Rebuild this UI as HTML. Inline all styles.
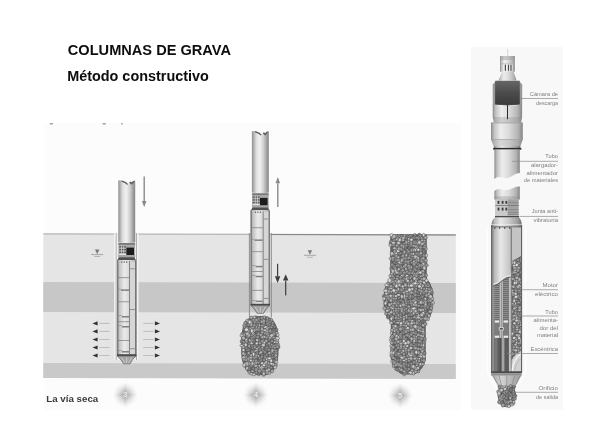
<!DOCTYPE html>
<html><head><meta charset="utf-8"><title>Columnas de grava</title>
<style>html,body{margin:0;padding:0;background:#fff}svg{display:block}text{font-family:"Liberation Sans",sans-serif}</style>
</head><body>
<svg width="600" height="435" viewBox="0 0 600 435">
<defs>
<linearGradient id="tube" x1="0" x2="1" y1="0" y2="0">
<stop offset="0" stop-color="#8c8c8c"/><stop offset="0.1" stop-color="#b0b0b0"/><stop offset="0.28" stop-color="#e2e2e2"/><stop offset="0.48" stop-color="#f0f0f0"/><stop offset="0.7" stop-color="#cdcdcd"/><stop offset="0.9" stop-color="#9a9a9a"/><stop offset="1" stop-color="#858585"/>
</linearGradient>
<linearGradient id="body" x1="0" x2="1" y1="0" y2="0">
<stop offset="0" stop-color="#8a8a8a"/><stop offset="0.12" stop-color="#c4c4c4"/><stop offset="0.38" stop-color="#ebebeb"/><stop offset="0.65" stop-color="#d6d6d6"/><stop offset="1" stop-color="#b0b0b0"/>
</linearGradient>
<linearGradient id="cyl" x1="0" x2="1" y1="0" y2="0">
<stop offset="0" stop-color="#8a8a8a"/><stop offset="0.1" stop-color="#c2c2c2"/><stop offset="0.3" stop-color="#ededed"/><stop offset="0.55" stop-color="#dcdcdc"/><stop offset="0.85" stop-color="#b4b4b4"/><stop offset="1" stop-color="#858585"/>
</linearGradient>
<linearGradient id="cyl2" x1="0" x2="1" y1="0" y2="0">
<stop offset="0" stop-color="#7c7c7c"/><stop offset="0.1" stop-color="#b8b8b8"/><stop offset="0.3" stop-color="#e8e8e8"/><stop offset="0.6" stop-color="#c6c6c6"/><stop offset="0.85" stop-color="#a0a0a0"/><stop offset="1" stop-color="#707070"/>
</linearGradient>
<linearGradient id="dark" x1="0" x2="1" y1="0" y2="0">
<stop offset="0" stop-color="#8a8a8a"/><stop offset="0.1" stop-color="#7a7a7a"/><stop offset="0.13" stop-color="#4a4a4a"/><stop offset="0.5" stop-color="#505050"/><stop offset="0.87" stop-color="#585858"/><stop offset="0.9" stop-color="#8a8a8a"/><stop offset="1" stop-color="#9a9a9a"/>
</linearGradient>
<linearGradient id="darkv" x1="0" x2="0" y1="0" y2="1"><stop offset="0" stop-color="#666"/><stop offset="0.5" stop-color="#4c4c4c"/><stop offset="1" stop-color="#3a3a3a"/></linearGradient>
<linearGradient id="shellcut" gradientUnits="userSpaceOnUse" x1="491.5" x2="521.8" y1="0" y2="0"><stop offset="0" stop-color="#7c7c7c"/><stop offset="0.1" stop-color="#b8b8b8"/><stop offset="0.3" stop-color="#e8e8e8"/><stop offset="0.6" stop-color="#c6c6c6"/><stop offset="0.85" stop-color="#a0a0a0"/><stop offset="1" stop-color="#707070"/></linearGradient>
<linearGradient id="conegr" x1="0" x2="1" y1="0" y2="0"><stop offset="0" stop-color="#a8a8a8"/><stop offset="0.3" stop-color="#d4d4d4"/><stop offset="0.55" stop-color="#c0c0c0"/><stop offset="1" stop-color="#9c9c9c"/></linearGradient>
<radialGradient id="badge"><stop offset="0" stop-color="#a6a6a6" stop-opacity="0.9"/><stop offset="0.3" stop-color="#b0b0b0" stop-opacity="0.72"/><stop offset="0.65" stop-color="#c8c8c8" stop-opacity="0.35"/><stop offset="1" stop-color="#ddd" stop-opacity="0"/></radialGradient>
<filter id="blur1" x="-5%" y="-20%" width="110%" height="140%"><feGaussianBlur stdDeviation="0.3"/></filter>
<filter id="blur2" x="-5%" y="-5%" width="110%" height="110%"><feGaussianBlur stdDeviation="0.35"/></filter>
<filter id="blur3" x="-5%" y="-5%" width="110%" height="110%"><feGaussianBlur stdDeviation="0.45"/></filter>
<filter id="bump" x="-10%" y="-10%" width="120%" height="120%"><feTurbulence type="fractalNoise" baseFrequency="0.35" numOctaves="1" seed="3" result="n"/><feDisplacementMap in="SourceGraphic" in2="n" scale="5" xChannelSelector="R" yChannelSelector="G"/><feGaussianBlur stdDeviation="0.3"/></filter>

<clipPath id="feedclip"><path d="M511.7,261.3 L521,256.3 L521,351 Q513,356 511.7,361 Z"/></clipPath>
</defs>
<rect width="600" height="435" fill="#fff"/>
<g filter="url(#blur1)"><text x="67.8" y="54.6" font-size="14.5" font-weight="bold" fill="#0c0c0c" textLength="163.2" lengthAdjust="spacingAndGlyphs">COLUMNAS DE GRAVA</text>
<text x="67.2" y="80.6" font-size="14.2" font-weight="bold" fill="#0c0c0c" textLength="141.6" lengthAdjust="spacingAndGlyphs">Método constructivo</text></g>
<g filter="url(#blur2)">
<rect x="44" y="123" width="417" height="287" fill="#fcfcfc"/>
<g transform="translate(43.3 0) skewY(0.14) translate(-43.3 0)">
<rect x="43.3" y="234" width="412.5" height="143.5" fill="#e5e5e5"/>
<rect x="43.3" y="282" width="412.5" height="30" fill="#c7c7c7"/>
<rect x="43.3" y="363.1" width="412.5" height="14.8" fill="#c9c9c9"/>
<rect x="43.3" y="233.3" width="412.5" height="1.2" fill="#b4b4b4"/>
<rect x="272" y="233.4" width="183.8" height="1" fill="#858585"/>
</g>
<rect x="49.8" y="123.2" width="3" height="1.2" fill="#8a8a8a"/>
<rect x="102.7" y="123.2" width="3" height="1.2" fill="#8a8a8a"/>
<rect x="121.2" y="123.2" width="1.6" height="1.2" fill="#8a8a8a"/>
<path d="M254.8,316.0 L251.2,317.0 L249.2,318.0 L248.0,319.0 L247.0,320.0 L246.2,321.0 L245.5,322.0 L244.8,323.0 L244.2,324.0 L243.8,325.0 L243.5,326.0 L243.0,327.0 L242.8,328.0 L242.5,329.0 L242.2,330.0 L242.0,331.0 L242.0,332.0 L241.8,333.0 L241.5,334.0 L241.5,335.0 L241.5,336.0 L241.2,337.0 L241.2,338.0 L241.2,339.0 L241.2,340.0 L241.2,341.0 L241.2,342.0 L241.2,343.0 L241.2,344.0 L241.2,345.0 L241.2,346.0 L241.2,347.0 L241.2,348.0 L241.2,349.0 L241.2,350.0 L241.2,351.0 L241.2,352.0 L241.2,353.0 L241.2,354.0 L241.5,355.0 L241.5,356.0 L241.5,357.0 L241.8,358.0 L241.8,359.0 L242.0,360.0 L242.2,361.0 L242.5,362.0 L242.8,363.0 L243.0,364.0 L243.2,365.0 L243.8,366.0 L244.2,367.0 L244.8,368.0 L245.2,369.0 L246.0,370.0 L246.8,371.0 L247.8,372.0 L249.0,373.0 L250.8,374.0 L253.8,375.0 L266.0,375.0 L269.0,374.0 L270.8,373.0 L272.0,372.0 L273.0,371.0 L273.8,370.0 L274.5,369.0 L275.0,368.0 L275.5,367.0 L276.0,366.0 L276.5,365.0 L276.8,364.0 L277.0,363.0 L277.2,362.0 L277.5,361.0 L277.8,360.0 L278.0,359.0 L278.0,358.0 L278.2,357.0 L278.2,356.0 L278.5,355.0 L278.5,354.0 L278.5,353.0 L278.5,352.0 L278.5,351.0 L278.8,350.0 L278.8,349.0 L278.8,348.0 L278.8,347.0 L278.8,346.0 L278.8,345.0 L278.8,344.0 L278.8,343.0 L278.8,342.0 L278.8,341.0 L278.5,340.0 L278.5,339.0 L278.5,338.0 L278.5,337.0 L278.5,336.0 L278.2,335.0 L278.2,334.0 L278.0,333.0 L278.0,332.0 L277.8,331.0 L277.5,330.0 L277.2,329.0 L277.0,328.0 L276.8,327.0 L276.2,326.0 L276.0,325.0 L275.5,324.0 L275.0,323.0 L274.2,322.0 L273.8,321.0 L272.8,320.0 L271.8,319.0 L270.5,318.0 L268.5,317.0 L265.0,316.0 Z" fill="#646464"/><g stroke="#484848" stroke-width="0.45"><ellipse cx="273.6" cy="326.1" rx="1.5" ry="1.5" fill="#cacaca"/><ellipse cx="258.3" cy="329.8" rx="2.0" ry="1.6" fill="#9e9e9e"/><ellipse cx="258.9" cy="337.2" rx="1.5" ry="1.9" fill="#969696"/><ellipse cx="248.8" cy="349.8" rx="1.8" ry="1.8" fill="#a6a6a6"/><ellipse cx="263.3" cy="340.2" rx="1.4" ry="1.7" fill="#aaaaaa"/><ellipse cx="250.2" cy="333.1" rx="1.6" ry="1.8" fill="#828282"/><ellipse cx="261.8" cy="327.8" rx="1.4" ry="1.3" fill="#bebebe"/><ellipse cx="269.3" cy="320.5" rx="1.7" ry="2.0" fill="#9a9a9a"/><ellipse cx="256.5" cy="345.3" rx="1.8" ry="1.6" fill="#828282"/><ellipse cx="249.9" cy="347.2" rx="1.6" ry="1.4" fill="#969696"/><ellipse cx="243.3" cy="347.1" rx="2.0" ry="1.2" fill="#cacaca"/><ellipse cx="263.9" cy="348.4" rx="1.3" ry="1.4" fill="#828282"/><ellipse cx="246.1" cy="325.8" rx="2.0" ry="1.8" fill="#8e8e8e"/><ellipse cx="259.7" cy="360.9" rx="1.6" ry="1.9" fill="#8e8e8e"/><ellipse cx="258.3" cy="355.9" rx="1.4" ry="1.7" fill="#b2b2b2"/><ellipse cx="262.0" cy="349.4" rx="1.5" ry="1.6" fill="#b2b2b2"/><ellipse cx="272.7" cy="330.7" rx="2.0" ry="1.2" fill="#bebebe"/><ellipse cx="262.1" cy="329.4" rx="1.6" ry="1.9" fill="#b2b2b2"/><ellipse cx="254.4" cy="353.2" rx="1.2" ry="1.8" fill="#cacaca"/><ellipse cx="254.2" cy="369.9" rx="1.3" ry="1.7" fill="#828282"/><ellipse cx="274.6" cy="330.0" rx="1.7" ry="1.3" fill="#8e8e8e"/><ellipse cx="249.1" cy="366.1" rx="1.4" ry="1.8" fill="#969696"/><ellipse cx="278.5" cy="347.1" rx="1.5" ry="1.7" fill="#828282"/><ellipse cx="263.7" cy="336.0" rx="1.6" ry="1.3" fill="#9a9a9a"/><ellipse cx="268.5" cy="349.6" rx="2.0" ry="1.6" fill="#969696"/><ellipse cx="254.6" cy="357.6" rx="1.8" ry="1.5" fill="#a6a6a6"/><ellipse cx="253.4" cy="361.1" rx="1.4" ry="2.0" fill="#9e9e9e"/><ellipse cx="274.0" cy="353.6" rx="1.9" ry="1.5" fill="#969696"/><ellipse cx="267.3" cy="330.5" rx="1.6" ry="1.9" fill="#cacaca"/><ellipse cx="267.6" cy="358.7" rx="2.0" ry="1.8" fill="#cacaca"/><ellipse cx="262.5" cy="372.1" rx="1.2" ry="2.0" fill="#b2b2b2"/><ellipse cx="243.9" cy="344.4" rx="1.6" ry="1.6" fill="#9e9e9e"/><ellipse cx="248.5" cy="330.9" rx="1.5" ry="1.5" fill="#aaaaaa"/><ellipse cx="266.2" cy="367.3" rx="1.4" ry="1.8" fill="#9a9a9a"/><ellipse cx="266.3" cy="331.8" rx="2.0" ry="1.5" fill="#bebebe"/><ellipse cx="261.7" cy="345.6" rx="1.5" ry="1.5" fill="#aaaaaa"/><ellipse cx="271.2" cy="327.2" rx="1.5" ry="1.4" fill="#a6a6a6"/><ellipse cx="246.3" cy="322.5" rx="1.7" ry="1.4" fill="#aaaaaa"/><ellipse cx="259.3" cy="365.9" rx="1.3" ry="1.5" fill="#bebebe"/><ellipse cx="271.4" cy="320.2" rx="1.4" ry="1.8" fill="#a6a6a6"/><ellipse cx="263.8" cy="366.8" rx="1.5" ry="1.8" fill="#9a9a9a"/><ellipse cx="274.8" cy="361.8" rx="1.3" ry="2.0" fill="#9a9a9a"/><ellipse cx="271.6" cy="337.3" rx="1.7" ry="1.9" fill="#a6a6a6"/><ellipse cx="275.2" cy="342.2" rx="1.8" ry="1.4" fill="#cacaca"/><ellipse cx="241.5" cy="345.6" rx="1.7" ry="1.2" fill="#cacaca"/><ellipse cx="273.3" cy="350.2" rx="1.8" ry="1.5" fill="#dadada"/><ellipse cx="255.9" cy="317.2" rx="1.4" ry="1.4" fill="#828282"/><ellipse cx="271.8" cy="352.2" rx="1.8" ry="1.9" fill="#aaaaaa"/><ellipse cx="249.3" cy="367.8" rx="1.8" ry="1.6" fill="#9e9e9e"/><ellipse cx="253.3" cy="340.8" rx="1.9" ry="1.8" fill="#aaaaaa"/><ellipse cx="252.3" cy="327.8" rx="1.9" ry="1.6" fill="#dadada"/><ellipse cx="264.2" cy="336.8" rx="1.7" ry="1.4" fill="#cacaca"/><ellipse cx="272.7" cy="323.0" rx="1.5" ry="1.5" fill="#9a9a9a"/><ellipse cx="262.1" cy="364.8" rx="1.5" ry="1.5" fill="#aaaaaa"/><ellipse cx="256.3" cy="372.7" rx="2.0" ry="1.5" fill="#9a9a9a"/><ellipse cx="267.2" cy="327.7" rx="1.4" ry="2.0" fill="#dadada"/><ellipse cx="249.0" cy="360.2" rx="1.3" ry="2.0" fill="#a6a6a6"/><ellipse cx="253.4" cy="366.0" rx="1.5" ry="1.7" fill="#969696"/><ellipse cx="264.1" cy="317.3" rx="1.8" ry="1.6" fill="#a6a6a6"/><ellipse cx="259.9" cy="368.4" rx="1.9" ry="1.5" fill="#bebebe"/><ellipse cx="267.2" cy="324.3" rx="1.7" ry="1.5" fill="#a6a6a6"/><ellipse cx="247.7" cy="350.1" rx="2.0" ry="1.3" fill="#8e8e8e"/><ellipse cx="246.1" cy="359.7" rx="1.9" ry="1.6" fill="#b2b2b2"/><ellipse cx="254.3" cy="317.4" rx="1.5" ry="1.5" fill="#cacaca"/><ellipse cx="256.3" cy="329.3" rx="2.0" ry="1.6" fill="#aaaaaa"/><ellipse cx="271.2" cy="341.8" rx="1.5" ry="1.3" fill="#969696"/><ellipse cx="261.8" cy="367.7" rx="2.0" ry="1.8" fill="#dadada"/><ellipse cx="247.4" cy="338.2" rx="1.5" ry="1.3" fill="#9e9e9e"/><ellipse cx="269.5" cy="367.4" rx="1.5" ry="1.6" fill="#9a9a9a"/><ellipse cx="254.1" cy="346.1" rx="1.6" ry="1.6" fill="#cacaca"/><ellipse cx="242.4" cy="342.3" rx="1.7" ry="1.4" fill="#9a9a9a"/><ellipse cx="257.3" cy="322.3" rx="1.9" ry="1.5" fill="#a6a6a6"/><ellipse cx="251.2" cy="373.7" rx="1.4" ry="1.5" fill="#cacaca"/><ellipse cx="257.1" cy="348.7" rx="1.8" ry="1.5" fill="#b2b2b2"/><ellipse cx="257.4" cy="340.1" rx="1.6" ry="1.6" fill="#dadada"/><ellipse cx="271.4" cy="345.1" rx="1.6" ry="1.6" fill="#bebebe"/><ellipse cx="258.7" cy="374.3" rx="1.4" ry="1.5" fill="#8e8e8e"/><ellipse cx="275.0" cy="356.8" rx="1.9" ry="1.8" fill="#9a9a9a"/><ellipse cx="263.3" cy="350.8" rx="1.7" ry="1.4" fill="#9e9e9e"/><ellipse cx="252.6" cy="347.3" rx="1.4" ry="1.8" fill="#b2b2b2"/><ellipse cx="261.9" cy="318.0" rx="1.8" ry="1.6" fill="#9a9a9a"/><ellipse cx="277.6" cy="334.6" rx="1.4" ry="1.9" fill="#cacaca"/><ellipse cx="252.5" cy="371.2" rx="1.9" ry="1.3" fill="#aaaaaa"/><ellipse cx="273.6" cy="355.0" rx="2.0" ry="1.3" fill="#969696"/><ellipse cx="275.8" cy="355.4" rx="1.7" ry="1.9" fill="#a6a6a6"/><ellipse cx="260.9" cy="359.8" rx="1.7" ry="1.7" fill="#8e8e8e"/><ellipse cx="276.4" cy="358.7" rx="1.4" ry="1.7" fill="#9a9a9a"/><ellipse cx="244.6" cy="326.9" rx="1.6" ry="1.7" fill="#9a9a9a"/><ellipse cx="253.5" cy="351.1" rx="1.4" ry="1.8" fill="#aaaaaa"/><ellipse cx="265.2" cy="327.0" rx="2.0" ry="1.2" fill="#dadada"/><ellipse cx="250.2" cy="340.5" rx="1.5" ry="1.8" fill="#dadada"/><ellipse cx="272.4" cy="357.2" rx="1.6" ry="1.5" fill="#8e8e8e"/><ellipse cx="252.1" cy="367.0" rx="1.5" ry="1.4" fill="#828282"/><ellipse cx="244.5" cy="354.5" rx="1.8" ry="1.6" fill="#bebebe"/><ellipse cx="267.5" cy="318.4" rx="1.3" ry="1.9" fill="#9a9a9a"/><ellipse cx="259.2" cy="325.3" rx="1.4" ry="1.7" fill="#bebebe"/><ellipse cx="269.0" cy="327.6" rx="1.6" ry="1.4" fill="#969696"/><ellipse cx="248.8" cy="355.1" rx="1.8" ry="1.7" fill="#bebebe"/><ellipse cx="274.0" cy="345.9" rx="1.6" ry="1.6" fill="#b2b2b2"/><ellipse cx="254.7" cy="321.8" rx="1.5" ry="1.6" fill="#b2b2b2"/><ellipse cx="246.2" cy="340.3" rx="1.4" ry="2.0" fill="#dadada"/><ellipse cx="272.3" cy="350.7" rx="1.4" ry="1.9" fill="#b2b2b2"/><ellipse cx="253.4" cy="368.5" rx="1.8" ry="1.4" fill="#828282"/><ellipse cx="259.7" cy="353.0" rx="1.6" ry="1.6" fill="#aaaaaa"/><ellipse cx="263.5" cy="325.3" rx="1.4" ry="1.4" fill="#a6a6a6"/><ellipse cx="258.4" cy="332.5" rx="1.9" ry="1.5" fill="#828282"/><ellipse cx="261.7" cy="369.5" rx="1.9" ry="1.8" fill="#aaaaaa"/><ellipse cx="275.9" cy="365.2" rx="1.5" ry="1.6" fill="#9e9e9e"/><ellipse cx="272.5" cy="325.2" rx="1.4" ry="1.2" fill="#9e9e9e"/><ellipse cx="259.4" cy="340.3" rx="1.3" ry="1.9" fill="#828282"/><ellipse cx="257.2" cy="332.9" rx="1.6" ry="1.3" fill="#828282"/><ellipse cx="261.7" cy="342.5" rx="1.6" ry="1.7" fill="#969696"/><ellipse cx="249.3" cy="343.6" rx="1.8" ry="1.8" fill="#828282"/><ellipse cx="267.7" cy="342.3" rx="1.6" ry="1.5" fill="#828282"/><ellipse cx="251.2" cy="324.8" rx="1.7" ry="1.5" fill="#cacaca"/><ellipse cx="256.1" cy="335.2" rx="1.8" ry="1.8" fill="#828282"/><ellipse cx="251.9" cy="320.8" rx="1.8" ry="1.6" fill="#9e9e9e"/><ellipse cx="270.0" cy="322.2" rx="1.5" ry="2.0" fill="#8e8e8e"/><ellipse cx="258.9" cy="320.0" rx="1.4" ry="1.5" fill="#9e9e9e"/><ellipse cx="259.7" cy="346.0" rx="1.4" ry="1.2" fill="#8e8e8e"/><ellipse cx="252.0" cy="335.3" rx="1.8" ry="2.0" fill="#8e8e8e"/><ellipse cx="258.7" cy="327.8" rx="1.4" ry="1.2" fill="#a6a6a6"/><ellipse cx="266.6" cy="359.5" rx="1.7" ry="1.7" fill="#bebebe"/><ellipse cx="242.0" cy="341.2" rx="1.9" ry="1.7" fill="#8e8e8e"/><ellipse cx="245.2" cy="323.1" rx="1.6" ry="1.6" fill="#9e9e9e"/><ellipse cx="262.2" cy="354.9" rx="2.0" ry="1.4" fill="#828282"/><ellipse cx="251.9" cy="351.1" rx="1.4" ry="1.2" fill="#aaaaaa"/><ellipse cx="258.5" cy="362.8" rx="1.4" ry="1.4" fill="#9a9a9a"/><ellipse cx="267.6" cy="334.5" rx="2.0" ry="1.7" fill="#bebebe"/><ellipse cx="266.7" cy="337.4" rx="1.6" ry="1.6" fill="#9e9e9e"/><ellipse cx="259.8" cy="343.1" rx="1.8" ry="1.5" fill="#9e9e9e"/><ellipse cx="268.5" cy="369.8" rx="1.7" ry="1.5" fill="#dadada"/><ellipse cx="255.9" cy="365.9" rx="2.0" ry="1.7" fill="#b2b2b2"/><ellipse cx="254.5" cy="363.4" rx="1.5" ry="1.6" fill="#aaaaaa"/><ellipse cx="272.1" cy="347.1" rx="1.6" ry="1.6" fill="#9a9a9a"/><ellipse cx="251.7" cy="340.3" rx="1.4" ry="1.8" fill="#a6a6a6"/><ellipse cx="246.2" cy="357.2" rx="1.6" ry="1.6" fill="#a6a6a6"/><ellipse cx="278.3" cy="344.8" rx="1.4" ry="1.9" fill="#b2b2b2"/><ellipse cx="245.0" cy="330.8" rx="1.5" ry="1.3" fill="#828282"/><ellipse cx="242.4" cy="333.6" rx="1.6" ry="1.3" fill="#aaaaaa"/><ellipse cx="268.3" cy="335.7" rx="1.5" ry="1.8" fill="#969696"/><ellipse cx="252.4" cy="352.0" rx="1.8" ry="1.8" fill="#8e8e8e"/><ellipse cx="262.0" cy="320.6" rx="1.5" ry="1.7" fill="#a6a6a6"/><ellipse cx="257.5" cy="368.1" rx="1.2" ry="1.6" fill="#a6a6a6"/><ellipse cx="251.7" cy="343.6" rx="1.6" ry="2.0" fill="#cacaca"/><ellipse cx="270.1" cy="355.7" rx="1.7" ry="1.3" fill="#8e8e8e"/><ellipse cx="248.5" cy="324.6" rx="1.5" ry="1.6" fill="#969696"/><ellipse cx="248.5" cy="358.6" rx="1.5" ry="1.6" fill="#a6a6a6"/><ellipse cx="268.3" cy="363.3" rx="1.5" ry="1.3" fill="#bebebe"/><ellipse cx="268.8" cy="324.7" rx="1.8" ry="1.4" fill="#9a9a9a"/><ellipse cx="251.1" cy="365.7" rx="1.8" ry="1.5" fill="#8e8e8e"/><ellipse cx="260.9" cy="334.8" rx="1.5" ry="1.6" fill="#bebebe"/><ellipse cx="247.7" cy="355.0" rx="1.8" ry="1.4" fill="#828282"/><ellipse cx="259.0" cy="347.4" rx="1.4" ry="1.3" fill="#aaaaaa"/><ellipse cx="253.4" cy="333.7" rx="1.6" ry="1.7" fill="#b2b2b2"/><ellipse cx="272.1" cy="371.1" rx="1.6" ry="1.8" fill="#aaaaaa"/><ellipse cx="262.3" cy="348.0" rx="1.4" ry="2.0" fill="#a6a6a6"/><ellipse cx="274.1" cy="360.9" rx="1.4" ry="2.0" fill="#828282"/><ellipse cx="276.4" cy="345.0" rx="1.8" ry="1.7" fill="#8e8e8e"/><ellipse cx="258.3" cy="322.5" rx="2.0" ry="1.6" fill="#8e8e8e"/><ellipse cx="266.4" cy="364.4" rx="1.5" ry="1.6" fill="#9e9e9e"/><ellipse cx="246.8" cy="328.3" rx="1.7" ry="1.3" fill="#bebebe"/><ellipse cx="260.2" cy="349.5" rx="1.8" ry="2.0" fill="#828282"/><ellipse cx="256.3" cy="369.7" rx="1.8" ry="2.0" fill="#969696"/><ellipse cx="258.3" cy="334.3" rx="1.7" ry="2.0" fill="#969696"/><ellipse cx="256.8" cy="324.6" rx="1.8" ry="1.6" fill="#828282"/><ellipse cx="253.3" cy="327.4" rx="1.4" ry="1.4" fill="#a6a6a6"/><ellipse cx="266.9" cy="347.5" rx="1.8" ry="1.4" fill="#9e9e9e"/><ellipse cx="243.4" cy="339.4" rx="1.4" ry="1.4" fill="#8e8e8e"/><ellipse cx="258.7" cy="318.7" rx="1.4" ry="1.6" fill="#9a9a9a"/><ellipse cx="247.5" cy="335.9" rx="1.8" ry="2.0" fill="#a6a6a6"/><ellipse cx="271.7" cy="364.6" rx="1.9" ry="1.3" fill="#8e8e8e"/><ellipse cx="249.1" cy="321.1" rx="2.0" ry="1.8" fill="#9a9a9a"/><ellipse cx="266.9" cy="371.0" rx="1.9" ry="1.8" fill="#cacaca"/><ellipse cx="252.3" cy="363.5" rx="1.6" ry="1.9" fill="#bebebe"/><ellipse cx="261.0" cy="352.3" rx="1.4" ry="1.6" fill="#bebebe"/><ellipse cx="252.6" cy="332.6" rx="1.3" ry="1.4" fill="#dadada"/><ellipse cx="270.2" cy="347.2" rx="1.7" ry="1.3" fill="#b2b2b2"/><ellipse cx="247.4" cy="365.2" rx="1.4" ry="1.6" fill="#aaaaaa"/><ellipse cx="253.4" cy="354.4" rx="1.4" ry="1.9" fill="#dadada"/><ellipse cx="250.1" cy="328.4" rx="1.5" ry="1.4" fill="#9a9a9a"/><ellipse cx="248.5" cy="336.8" rx="2.0" ry="1.2" fill="#9e9e9e"/><ellipse cx="245.0" cy="333.3" rx="2.0" ry="1.6" fill="#8e8e8e"/><ellipse cx="254.8" cy="336.2" rx="1.3" ry="1.5" fill="#b2b2b2"/><ellipse cx="250.9" cy="357.2" rx="1.8" ry="2.0" fill="#b2b2b2"/><ellipse cx="275.2" cy="339.5" rx="1.6" ry="1.3" fill="#b2b2b2"/><ellipse cx="272.1" cy="341.1" rx="1.6" ry="1.5" fill="#969696"/><ellipse cx="265.1" cy="355.7" rx="1.3" ry="1.6" fill="#969696"/><ellipse cx="251.0" cy="322.9" rx="1.4" ry="1.6" fill="#cacaca"/><ellipse cx="260.0" cy="358.0" rx="1.6" ry="1.5" fill="#9a9a9a"/><ellipse cx="249.1" cy="346.0" rx="1.3" ry="1.7" fill="#aaaaaa"/><ellipse cx="256.7" cy="343.4" rx="1.4" ry="1.3" fill="#dadada"/><ellipse cx="255.9" cy="357.0" rx="1.3" ry="1.9" fill="#9e9e9e"/><ellipse cx="251.4" cy="317.8" rx="1.8" ry="1.7" fill="#a6a6a6"/><ellipse cx="247.6" cy="353.7" rx="1.4" ry="1.6" fill="#828282"/><ellipse cx="256.4" cy="326.8" rx="1.4" ry="1.7" fill="#9e9e9e"/><ellipse cx="251.9" cy="330.8" rx="1.5" ry="2.0" fill="#dadada"/><ellipse cx="266.2" cy="353.6" rx="1.6" ry="1.4" fill="#aaaaaa"/><ellipse cx="276.2" cy="351.9" rx="1.4" ry="1.9" fill="#bebebe"/><ellipse cx="247.0" cy="363.6" rx="1.8" ry="1.8" fill="#dadada"/><ellipse cx="249.1" cy="372.1" rx="1.2" ry="2.0" fill="#a6a6a6"/><ellipse cx="263.5" cy="344.9" rx="1.8" ry="1.9" fill="#cacaca"/><ellipse cx="274.0" cy="332.4" rx="1.8" ry="1.8" fill="#8e8e8e"/><ellipse cx="253.6" cy="319.9" rx="2.0" ry="1.5" fill="#969696"/><ellipse cx="266.7" cy="354.7" rx="1.3" ry="1.9" fill="#8e8e8e"/><ellipse cx="248.7" cy="352.9" rx="1.3" ry="1.5" fill="#b2b2b2"/><ellipse cx="273.6" cy="334.3" rx="1.8" ry="1.7" fill="#a6a6a6"/><ellipse cx="264.0" cy="365.1" rx="1.5" ry="1.7" fill="#dadada"/><ellipse cx="261.9" cy="356.8" rx="1.7" ry="1.7" fill="#8e8e8e"/><ellipse cx="247.1" cy="368.3" rx="1.2" ry="1.9" fill="#dadada"/><ellipse cx="263.5" cy="370.9" rx="1.7" ry="1.8" fill="#8e8e8e"/><ellipse cx="277.3" cy="346.9" rx="1.6" ry="1.3" fill="#a6a6a6"/><ellipse cx="251.8" cy="338.1" rx="1.5" ry="1.6" fill="#9a9a9a"/><ellipse cx="256.4" cy="350.9" rx="2.0" ry="1.2" fill="#cacaca"/><ellipse cx="269.9" cy="346.0" rx="1.6" ry="1.8" fill="#828282"/><ellipse cx="249.0" cy="335.3" rx="1.4" ry="1.9" fill="#bebebe"/><ellipse cx="247.4" cy="333.7" rx="1.9" ry="1.7" fill="#bebebe"/><ellipse cx="267.6" cy="322.8" rx="1.8" ry="1.9" fill="#969696"/><ellipse cx="262.1" cy="363.1" rx="1.6" ry="1.5" fill="#cacaca"/><ellipse cx="269.4" cy="339.3" rx="1.2" ry="1.8" fill="#9a9a9a"/><ellipse cx="274.7" cy="326.8" rx="1.4" ry="1.5" fill="#828282"/><ellipse cx="243.5" cy="350.0" rx="1.5" ry="1.5" fill="#dadada"/><ellipse cx="266.1" cy="349.6" rx="1.8" ry="1.7" fill="#828282"/><ellipse cx="244.3" cy="325.5" rx="1.6" ry="1.4" fill="#9e9e9e"/><ellipse cx="246.3" cy="348.1" rx="1.8" ry="1.6" fill="#828282"/><ellipse cx="265.2" cy="362.9" rx="1.8" ry="1.4" fill="#cacaca"/><ellipse cx="262.2" cy="337.2" rx="1.2" ry="1.5" fill="#bebebe"/><ellipse cx="253.5" cy="337.3" rx="1.8" ry="1.3" fill="#969696"/><ellipse cx="269.2" cy="360.4" rx="2.0" ry="1.3" fill="#9a9a9a"/><ellipse cx="264.2" cy="342.4" rx="1.7" ry="1.5" fill="#cacaca"/><ellipse cx="243.7" cy="342.1" rx="1.8" ry="1.4" fill="#969696"/><ellipse cx="244.0" cy="359.5" rx="1.6" ry="1.5" fill="#a6a6a6"/><ellipse cx="269.5" cy="358.3" rx="1.8" ry="1.3" fill="#dadada"/><ellipse cx="263.7" cy="322.9" rx="1.4" ry="2.0" fill="#b2b2b2"/><ellipse cx="271.2" cy="367.6" rx="1.4" ry="1.4" fill="#969696"/><ellipse cx="273.3" cy="364.4" rx="1.6" ry="1.6" fill="#bebebe"/><ellipse cx="264.9" cy="330.3" rx="1.8" ry="1.5" fill="#bebebe"/><ellipse cx="270.0" cy="337.7" rx="1.7" ry="1.4" fill="#b2b2b2"/><ellipse cx="274.9" cy="347.6" rx="1.4" ry="1.2" fill="#aaaaaa"/><ellipse cx="245.8" cy="344.8" rx="1.5" ry="2.0" fill="#cacaca"/><ellipse cx="262.3" cy="325.7" rx="1.9" ry="1.4" fill="#969696"/><ellipse cx="271.4" cy="331.8" rx="1.5" ry="1.8" fill="#9a9a9a"/><ellipse cx="244.0" cy="335.0" rx="1.6" ry="1.6" fill="#a6a6a6"/><ellipse cx="262.2" cy="341.2" rx="1.8" ry="1.8" fill="#969696"/><ellipse cx="256.3" cy="362.1" rx="1.4" ry="1.8" fill="#dadada"/><ellipse cx="255.9" cy="360.7" rx="1.5" ry="1.6" fill="#9a9a9a"/><ellipse cx="276.1" cy="350.8" rx="1.3" ry="1.6" fill="#969696"/><ellipse cx="263.7" cy="374.8" rx="1.8" ry="1.5" fill="#aaaaaa"/><ellipse cx="247.5" cy="320.6" rx="1.8" ry="1.5" fill="#aaaaaa"/><ellipse cx="277.4" cy="340.8" rx="1.4" ry="1.8" fill="#dadada"/><ellipse cx="254.4" cy="373.6" rx="1.4" ry="1.6" fill="#969696"/><ellipse cx="271.2" cy="360.8" rx="1.4" ry="1.7" fill="#dadada"/><ellipse cx="246.5" cy="341.8" rx="1.6" ry="1.4" fill="#9a9a9a"/><ellipse cx="243.3" cy="353.5" rx="1.4" ry="1.7" fill="#bebebe"/><ellipse cx="276.3" cy="361.9" rx="1.6" ry="1.7" fill="#bebebe"/><ellipse cx="276.5" cy="329.8" rx="1.5" ry="1.5" fill="#828282"/><ellipse cx="277.0" cy="342.4" rx="1.4" ry="1.4" fill="#b2b2b2"/><ellipse cx="277.4" cy="338.2" rx="2.0" ry="1.7" fill="#cacaca"/><ellipse cx="270.0" cy="331.8" rx="1.7" ry="1.5" fill="#cacaca"/><ellipse cx="271.3" cy="363.7" rx="1.7" ry="1.2" fill="#dadada"/><ellipse cx="257.6" cy="337.0" rx="2.0" ry="1.6" fill="#8e8e8e"/><ellipse cx="269.0" cy="343.6" rx="1.6" ry="1.5" fill="#aaaaaa"/><ellipse cx="269.5" cy="373.1" rx="1.3" ry="1.5" fill="#cacaca"/><ellipse cx="241.7" cy="335.6" rx="1.7" ry="1.6" fill="#bebebe"/><ellipse cx="243.5" cy="338.0" rx="1.7" ry="1.8" fill="#bebebe"/><ellipse cx="254.4" cy="325.1" rx="1.6" ry="1.8" fill="#969696"/><ellipse cx="266.1" cy="361.9" rx="1.6" ry="1.5" fill="#bebebe"/><ellipse cx="271.7" cy="335.6" rx="1.9" ry="1.8" fill="#cacaca"/><ellipse cx="267.2" cy="372.6" rx="1.8" ry="1.5" fill="#a6a6a6"/><ellipse cx="265.0" cy="333.2" rx="1.3" ry="1.7" fill="#9e9e9e"/><ellipse cx="273.8" cy="337.5" rx="1.7" ry="1.3" fill="#9e9e9e"/><ellipse cx="267.1" cy="344.9" rx="1.2" ry="1.8" fill="#828282"/><ellipse cx="256.6" cy="354.9" rx="1.6" ry="1.6" fill="#b2b2b2"/><ellipse cx="259.6" cy="373.1" rx="1.3" ry="1.6" fill="#828282"/><ellipse cx="266.3" cy="340.7" rx="1.5" ry="1.5" fill="#b2b2b2"/><ellipse cx="259.4" cy="371.0" rx="2.0" ry="1.8" fill="#9a9a9a"/><ellipse cx="270.2" cy="330.9" rx="1.5" ry="1.8" fill="#9a9a9a"/><ellipse cx="264.0" cy="360.0" rx="1.5" ry="1.7" fill="#8e8e8e"/><ellipse cx="249.4" cy="363.6" rx="1.5" ry="1.5" fill="#aaaaaa"/><ellipse cx="262.2" cy="332.3" rx="1.7" ry="1.7" fill="#9e9e9e"/><ellipse cx="243.8" cy="357.4" rx="1.9" ry="1.4" fill="#bebebe"/><ellipse cx="276.6" cy="332.7" rx="1.5" ry="1.2" fill="#aaaaaa"/><ellipse cx="253.8" cy="342.0" rx="1.4" ry="1.3" fill="#828282"/><ellipse cx="257.2" cy="353.0" rx="1.4" ry="1.8" fill="#828282"/><ellipse cx="252.1" cy="346.0" rx="1.6" ry="1.7" fill="#828282"/><ellipse cx="249.3" cy="369.3" rx="1.6" ry="1.5" fill="#828282"/><ellipse cx="263.7" cy="321.1" rx="1.7" ry="2.0" fill="#aaaaaa"/><ellipse cx="264.9" cy="352.0" rx="1.5" ry="1.8" fill="#8e8e8e"/><ellipse cx="251.0" cy="355.1" rx="1.5" ry="1.5" fill="#a6a6a6"/><ellipse cx="272.7" cy="354.9" rx="1.6" ry="1.5" fill="#828282"/><ellipse cx="263.8" cy="373.6" rx="1.4" ry="1.9" fill="#bebebe"/><ellipse cx="244.9" cy="363.7" rx="1.6" ry="1.2" fill="#cacaca"/><ellipse cx="253.8" cy="374.5" rx="1.7" ry="1.3" fill="#cacaca"/><ellipse cx="275.1" cy="367.3" rx="1.6" ry="1.6" fill="#cacaca"/><ellipse cx="254.5" cy="330.3" rx="1.4" ry="1.9" fill="#a6a6a6"/><ellipse cx="269.3" cy="353.1" rx="1.4" ry="1.7" fill="#b2b2b2"/><ellipse cx="254.9" cy="347.3" rx="1.4" ry="1.8" fill="#9a9a9a"/><ellipse cx="267.0" cy="321.1" rx="1.4" ry="1.4" fill="#9a9a9a"/><ellipse cx="256.4" cy="319.9" rx="1.7" ry="1.5" fill="#a6a6a6"/><ellipse cx="250.9" cy="360.6" rx="1.5" ry="1.4" fill="#cacaca"/><ellipse cx="249.7" cy="322.1" rx="1.6" ry="1.8" fill="#dadada"/><ellipse cx="265.1" cy="357.3" rx="1.3" ry="1.7" fill="#9a9a9a"/><ellipse cx="246.4" cy="329.7" rx="2.0" ry="1.8" fill="#dadada"/><ellipse cx="261.7" cy="321.8" rx="1.4" ry="1.8" fill="#aaaaaa"/><ellipse cx="268.7" cy="366.1" rx="1.7" ry="1.3" fill="#9e9e9e"/><ellipse cx="244.2" cy="365.2" rx="1.6" ry="1.7" fill="#cacaca"/></g>
<rect x="114.7" y="233" width="23.299999999999997" height="127" fill="#eeeeee"/>
<rect x="114.2" y="233" width="0.9" height="127" fill="#f4f4f4"/>
<rect x="137.6" y="233" width="0.9" height="127" fill="#f4f4f4"/>
<rect x="115.7" y="233" width="0.9" height="127" fill="#b0b0b0"/>
<rect x="136.1" y="233" width="0.9" height="127" fill="#a8a8a8"/>
<g transform="translate(0 0) scale(1 1)">
<path d="M118.3,242.2 L118.3,180.6 L121,180.2 L123.5,181.2 L127.5,184.2 L130,181.6 L132.5,182.6 L134,180.4 L135.2,180.8 L135.2,242.2 Q126.7,244.2 118.3,242.2 Z" fill="url(#tube)"/>
<path d="M121.5,181 L125.5,182.6 L127.5,184.4 M129.8,182 L131.5,183.8 L133.8,181.2" fill="none" stroke="#555" stroke-width="1.3"/>
<rect x="118.4" y="243.2" width="16.7" height="14.3" fill="#aaaaaa"/>
<rect x="118.4" y="243" width="16.7" height="1.8" fill="#7a7a7a"/>
<rect x="126.4" y="247.6" width="7.6" height="8.2" fill="#1e1e1e"/>
<rect x="119.2" y="246.2" width="6.8" height="1.3" fill="#555"/>
<rect x="119.2" y="249.0" width="6.8" height="1.3" fill="#555"/>
<rect x="119.2" y="251.8" width="6.8" height="1.3" fill="#555"/>
<rect x="119.2" y="253.6" width="6.8" height="1.6" fill="#e4e4e4"/>
<rect x="121.2" y="245.4" width="0.8" height="8" fill="#cfcfcf"/>
<rect x="123.4" y="245.4" width="0.8" height="8" fill="#cfcfcf"/>
<rect x="118.4" y="255" width="16.7" height="2.5" fill="#a4a4a4"/>
<path d="M119,257.3 L134.4,257.3 L135.9,260.4 L117.2,260.4 Z" fill="#505050"/>
<rect x="117" y="260" width="19.3" height="96" fill="url(#body)"/>
<rect x="121.2" y="261.4" width="1.1" height="1.3" fill="#555"/>
<rect x="123.7" y="261.4" width="1.1" height="1.3" fill="#555"/>
<rect x="126.2" y="261.4" width="1.1" height="1.3" fill="#555"/>
<rect x="129.6" y="262" width="5.6" height="94" fill="#d6d6d6"/>
<rect x="129.1" y="261" width="0.9" height="95" fill="#7a7a7a"/>
<rect x="135" y="260" width="1.3" height="96" fill="#777"/>
<rect x="117" y="260" width="1.3" height="96" fill="#7c7c7c"/>
<rect x="118" y="277.3" width="11.3" height="0.8" fill="#858585"/>
<rect x="118" y="301.4" width="11.3" height="0.8" fill="#858585"/>
<rect x="118" y="321.4" width="11.3" height="0.8" fill="#858585"/>
<rect x="118" y="340.2" width="11.3" height="0.8" fill="#858585"/>
<rect x="130" y="268.4" width="5" height="0.9" fill="#8a8a8a"/>
<rect x="130" y="309" width="5" height="0.9" fill="#8a8a8a"/>
<rect x="130" y="348.3" width="5" height="0.9" fill="#8a8a8a"/>
<rect x="121" y="289.4" width="8" height="1.5" fill="#6e6e6e" opacity="0.85"/>
<rect x="118.3" y="288.79999999999995" width="2.5" height="0.7" fill="#8a8a8a"/>
<rect x="122" y="316" width="7" height="1.5" fill="#6e6e6e" opacity="0.85"/>
<rect x="118.3" y="315.4" width="3.5" height="0.7" fill="#8a8a8a"/>
<rect x="122" y="326" width="7" height="1.5" fill="#6e6e6e" opacity="0.85"/>
<rect x="118.3" y="325.4" width="3.5" height="0.7" fill="#8a8a8a"/>
<rect x="122" y="351" width="7" height="1.5" fill="#6e6e6e" opacity="0.85"/>
<rect x="118.3" y="350.4" width="3.5" height="0.7" fill="#8a8a8a"/>
<rect x="117" y="354.2" width="19.3" height="1.9" fill="#4a4a4a"/>
<path d="M117.2,356 L136.2,356 L132.8,359.2 L130,363.8 L123.6,363.8 L120.5,359.2 Z" fill="#a4a4a4" stroke="#555" stroke-width="0.6"/>
<path d="M121.5,357.5 L125,363.3 M131.8,357.5 L128.6,363.3 M126.7,357.5 L126.7,363.3" stroke="#d4d4d4" stroke-width="0.8" fill="none"/>
</g>
<rect x="248.9" y="233" width="0.9" height="84.5" fill="#858585"/>
<rect x="270.8" y="233" width="0.9" height="84.5" fill="#808080"/>
<g transform="translate(133.6 -48.17) scale(1 0.9937)">
<path d="M118.3,242.2 L118.3,180.6 L121,180.2 L123.5,181.2 L127.5,184.2 L130,181.6 L132.5,182.6 L134,180.4 L135.2,180.8 L135.2,242.2 Q126.7,244.2 118.3,242.2 Z" fill="url(#tube)"/>
<path d="M121.5,181 L125.5,182.6 L127.5,184.4 M129.8,182 L131.5,183.8 L133.8,181.2" fill="none" stroke="#555" stroke-width="1.3"/>
<rect x="118.4" y="243.2" width="16.7" height="14.3" fill="#aaaaaa"/>
<rect x="118.4" y="243" width="16.7" height="1.8" fill="#7a7a7a"/>
<rect x="126.4" y="247.6" width="7.6" height="8.2" fill="#1e1e1e"/>
<rect x="119.2" y="246.2" width="6.8" height="1.3" fill="#555"/>
<rect x="119.2" y="249.0" width="6.8" height="1.3" fill="#555"/>
<rect x="119.2" y="251.8" width="6.8" height="1.3" fill="#555"/>
<rect x="119.2" y="253.6" width="6.8" height="1.6" fill="#e4e4e4"/>
<rect x="121.2" y="245.4" width="0.8" height="8" fill="#cfcfcf"/>
<rect x="123.4" y="245.4" width="0.8" height="8" fill="#cfcfcf"/>
<rect x="118.4" y="255" width="16.7" height="2.5" fill="#a4a4a4"/>
<path d="M119,257.3 L134.4,257.3 L135.9,260.4 L117.2,260.4 Z" fill="#505050"/>
<rect x="117" y="260" width="19.3" height="96" fill="url(#body)"/>
<rect x="121.2" y="261.4" width="1.1" height="1.3" fill="#555"/>
<rect x="123.7" y="261.4" width="1.1" height="1.3" fill="#555"/>
<rect x="126.2" y="261.4" width="1.1" height="1.3" fill="#555"/>
<rect x="129.6" y="262" width="5.6" height="94" fill="#d6d6d6"/>
<rect x="129.1" y="261" width="0.9" height="95" fill="#7a7a7a"/>
<rect x="135" y="260" width="1.3" height="96" fill="#777"/>
<rect x="117" y="260" width="1.3" height="96" fill="#7c7c7c"/>
<rect x="118" y="277.3" width="11.3" height="0.8" fill="#858585"/>
<rect x="118" y="301.4" width="11.3" height="0.8" fill="#858585"/>
<rect x="118" y="321.4" width="11.3" height="0.8" fill="#858585"/>
<rect x="118" y="340.2" width="11.3" height="0.8" fill="#858585"/>
<rect x="130" y="268.4" width="5" height="0.9" fill="#8a8a8a"/>
<rect x="130" y="309" width="5" height="0.9" fill="#8a8a8a"/>
<rect x="130" y="348.3" width="5" height="0.9" fill="#8a8a8a"/>
<rect x="121" y="289.4" width="8" height="1.5" fill="#6e6e6e" opacity="0.85"/>
<rect x="118.3" y="288.79999999999995" width="2.5" height="0.7" fill="#8a8a8a"/>
<rect x="122" y="316" width="7" height="1.5" fill="#6e6e6e" opacity="0.85"/>
<rect x="118.3" y="315.4" width="3.5" height="0.7" fill="#8a8a8a"/>
<rect x="122" y="326" width="7" height="1.5" fill="#6e6e6e" opacity="0.85"/>
<rect x="118.3" y="325.4" width="3.5" height="0.7" fill="#8a8a8a"/>
<rect x="122" y="351" width="7" height="1.5" fill="#6e6e6e" opacity="0.85"/>
<rect x="118.3" y="350.4" width="3.5" height="0.7" fill="#8a8a8a"/>
<rect x="117" y="354.2" width="19.3" height="1.9" fill="#4a4a4a"/>
<path d="M117.2,356 L136.2,356 L132.8,359.2 L130,363.8 L123.6,363.8 L120.5,359.2 Z" fill="#a4a4a4" stroke="#555" stroke-width="0.6"/>
<path d="M121.5,357.5 L125,363.3 M131.8,357.5 L128.6,363.3 M126.7,357.5 L126.7,363.3" stroke="#d4d4d4" stroke-width="0.8" fill="none"/>
</g>
<path d="M390.2,234.5 L390.2,235.5 L390.2,236.5 L390.2,237.5 L390.2,238.5 L390.2,239.5 L390.2,240.5 L390.2,241.5 L390.2,242.5 L390.2,243.5 L390.2,244.5 L390.2,245.5 L390.2,246.5 L390.2,247.5 L390.2,248.5 L390.2,249.5 L390.2,250.5 L390.2,251.5 L390.2,252.5 L390.2,253.5 L390.2,254.5 L390.2,255.5 L390.2,256.5 L390.2,257.5 L390.2,258.5 L390.2,259.5 L390.2,260.5 L390.2,261.5 L390.2,262.5 L390.2,263.5 L390.2,264.5 L390.2,265.5 L390.2,266.5 L390.2,267.5 L390.2,268.5 L390.2,269.5 L390.2,270.5 L390.2,271.5 L390.2,272.5 L390.2,273.5 L390.2,274.5 L390.2,275.5 L390.2,276.5 L390.2,277.5 L390.2,278.5 L390.2,279.5 L388.8,280.5 L387.8,281.5 L387.0,282.5 L386.5,283.5 L386.0,284.5 L385.8,285.5 L385.2,286.5 L385.0,287.5 L384.8,288.5 L384.5,289.5 L384.2,290.5 L384.2,291.5 L384.0,292.5 L383.8,293.5 L383.8,294.5 L383.5,295.5 L383.5,296.5 L383.5,297.5 L383.5,298.5 L383.5,299.5 L383.5,300.5 L383.5,301.5 L383.5,302.5 L383.5,303.5 L383.5,304.5 L383.8,305.5 L383.8,306.5 L384.0,307.5 L384.2,308.5 L384.2,309.5 L384.5,310.5 L384.8,311.5 L385.0,312.5 L385.2,313.5 L385.8,314.5 L386.0,315.5 L386.5,316.5 L387.0,317.5 L387.8,318.5 L388.8,319.5 L390.8,320.5 L390.8,321.5 L390.8,322.5 L390.8,323.5 L390.8,324.5 L390.8,325.5 L390.8,326.5 L390.8,327.5 L390.8,328.5 L390.8,329.5 L390.8,330.5 L390.8,331.5 L390.8,332.5 L390.8,333.5 L390.8,334.5 L390.8,335.5 L390.8,336.5 L390.8,337.5 L390.8,338.5 L390.8,339.5 L390.8,340.5 L390.8,341.5 L390.8,342.5 L390.8,343.5 L390.8,344.5 L390.8,345.5 L390.8,346.5 L390.8,347.5 L390.8,348.5 L390.8,349.5 L390.8,350.5 L390.8,351.5 L390.8,352.5 L390.8,353.5 L390.8,354.5 L390.8,355.5 L390.8,356.5 L391.0,357.5 L391.0,358.5 L391.0,359.5 L391.2,360.5 L391.5,361.5 L391.8,362.5 L392.2,363.5 L392.5,364.5 L393.0,365.5 L393.5,366.5 L394.2,367.5 L395.0,368.5 L395.8,369.5 L396.5,370.5 L397.8,371.5 L398.8,372.5 L400.2,373.5 L402.2,374.5 L414.2,374.5 L416.2,373.5 L417.8,372.5 L419.0,371.5 L420.0,370.5 L421.0,369.5 L421.8,368.5 L422.5,367.5 L423.0,366.5 L423.5,365.5 L424.0,364.5 L424.5,363.5 L424.8,362.5 L425.0,361.5 L425.2,360.5 L425.5,359.5 L425.8,358.5 L425.8,357.5 L425.8,356.5 L425.8,355.5 L425.8,354.5 L425.8,353.5 L425.8,352.5 L425.8,351.5 L425.8,350.5 L425.8,349.5 L425.8,348.5 L425.8,347.5 L425.8,346.5 L425.8,345.5 L425.8,344.5 L425.8,343.5 L425.8,342.5 L425.8,341.5 L425.8,340.5 L425.8,339.5 L425.8,338.5 L425.8,337.5 L425.8,336.5 L425.8,335.5 L425.8,334.5 L425.8,333.5 L425.8,332.5 L425.8,331.5 L425.8,330.5 L425.8,329.5 L425.8,328.5 L425.8,327.5 L425.8,326.5 L425.8,325.5 L425.8,324.5 L425.8,323.5 L425.8,322.5 L425.8,321.5 L425.8,320.5 L428.0,319.5 L429.0,318.5 L429.8,317.5 L430.2,316.5 L430.8,315.5 L431.0,314.5 L431.5,313.5 L431.8,312.5 L432.0,311.5 L432.2,310.5 L432.5,309.5 L432.8,308.5 L432.8,307.5 L433.0,306.5 L433.0,305.5 L433.2,304.5 L433.2,303.5 L433.2,302.5 L433.2,301.5 L433.2,300.5 L433.2,299.5 L433.2,298.5 L433.2,297.5 L433.2,296.5 L433.2,295.5 L433.0,294.5 L433.0,293.5 L432.8,292.5 L432.8,291.5 L432.5,290.5 L432.2,289.5 L432.0,288.5 L431.8,287.5 L431.5,286.5 L431.0,285.5 L430.8,284.5 L430.2,283.5 L429.8,282.5 L429.0,281.5 L428.0,280.5 L426.8,279.5 L426.8,278.5 L426.8,277.5 L426.8,276.5 L426.8,275.5 L426.8,274.5 L426.8,273.5 L426.8,272.5 L426.8,271.5 L426.8,270.5 L426.8,269.5 L426.8,268.5 L426.8,267.5 L426.8,266.5 L426.8,265.5 L426.8,264.5 L426.8,263.5 L426.8,262.5 L426.8,261.5 L426.8,260.5 L426.8,259.5 L426.8,258.5 L426.8,257.5 L426.8,256.5 L426.8,255.5 L426.8,254.5 L426.8,253.5 L426.8,252.5 L426.8,251.5 L426.8,250.5 L426.8,249.5 L426.8,248.5 L426.8,247.5 L426.8,246.5 L426.8,245.5 L426.8,244.5 L426.8,243.5 L426.8,242.5 L426.8,241.5 L426.8,240.5 L426.8,239.5 L426.8,238.5 L426.8,237.5 L426.8,236.5 L426.8,235.5 L426.8,234.5 Z" fill="#646464"/><g stroke="#484848" stroke-width="0.45"><ellipse cx="403.1" cy="280.4" rx="1.8" ry="1.9" fill="#9a9a9a"/><ellipse cx="406.0" cy="361.6" rx="1.7" ry="1.6" fill="#9a9a9a"/><ellipse cx="427.8" cy="313.0" rx="1.8" ry="1.3" fill="#8e8e8e"/><ellipse cx="406.7" cy="291.1" rx="1.9" ry="1.6" fill="#cacaca"/><ellipse cx="390.8" cy="243.3" rx="1.7" ry="1.9" fill="#8e8e8e"/><ellipse cx="409.1" cy="282.9" rx="1.5" ry="1.3" fill="#bebebe"/><ellipse cx="402.8" cy="301.5" rx="1.8" ry="1.5" fill="#9a9a9a"/><ellipse cx="410.4" cy="299.0" rx="1.4" ry="1.7" fill="#9a9a9a"/><ellipse cx="400.7" cy="288.6" rx="1.5" ry="1.7" fill="#969696"/><ellipse cx="397.2" cy="287.4" rx="1.7" ry="1.3" fill="#a6a6a6"/><ellipse cx="421.1" cy="365.4" rx="1.7" ry="1.8" fill="#8e8e8e"/><ellipse cx="421.1" cy="318.9" rx="1.7" ry="1.3" fill="#b2b2b2"/><ellipse cx="418.6" cy="305.7" rx="1.8" ry="1.6" fill="#9a9a9a"/><ellipse cx="402.1" cy="297.7" rx="1.4" ry="1.8" fill="#8e8e8e"/><ellipse cx="429.5" cy="311.6" rx="1.3" ry="2.0" fill="#b2b2b2"/><ellipse cx="392.1" cy="349.0" rx="1.7" ry="1.7" fill="#aaaaaa"/><ellipse cx="392.0" cy="357.7" rx="1.2" ry="2.0" fill="#8e8e8e"/><ellipse cx="413.2" cy="347.6" rx="1.7" ry="1.5" fill="#9a9a9a"/><ellipse cx="401.1" cy="282.3" rx="1.4" ry="1.5" fill="#bebebe"/><ellipse cx="413.1" cy="271.1" rx="1.8" ry="1.5" fill="#a6a6a6"/><ellipse cx="413.9" cy="245.7" rx="2.0" ry="1.3" fill="#dadada"/><ellipse cx="393.4" cy="266.0" rx="1.8" ry="1.7" fill="#a6a6a6"/><ellipse cx="418.2" cy="323.5" rx="1.4" ry="1.6" fill="#9e9e9e"/><ellipse cx="386.6" cy="288.7" rx="1.5" ry="2.0" fill="#8e8e8e"/><ellipse cx="389.1" cy="304.1" rx="1.8" ry="1.7" fill="#9e9e9e"/><ellipse cx="428.1" cy="285.4" rx="1.7" ry="1.7" fill="#dadada"/><ellipse cx="419.4" cy="359.1" rx="1.5" ry="1.7" fill="#cacaca"/><ellipse cx="395.5" cy="333.2" rx="1.2" ry="1.5" fill="#aaaaaa"/><ellipse cx="398.1" cy="301.7" rx="2.0" ry="1.8" fill="#8e8e8e"/><ellipse cx="409.4" cy="276.5" rx="1.4" ry="1.4" fill="#828282"/><ellipse cx="425.4" cy="278.6" rx="1.4" ry="1.6" fill="#a6a6a6"/><ellipse cx="426.2" cy="275.4" rx="1.3" ry="1.7" fill="#9e9e9e"/><ellipse cx="423.4" cy="261.3" rx="1.9" ry="1.3" fill="#9e9e9e"/><ellipse cx="428.7" cy="300.7" rx="1.4" ry="1.4" fill="#bebebe"/><ellipse cx="392.0" cy="282.3" rx="1.4" ry="1.7" fill="#828282"/><ellipse cx="390.6" cy="292.3" rx="1.8" ry="1.4" fill="#b2b2b2"/><ellipse cx="418.8" cy="267.6" rx="1.6" ry="1.9" fill="#8e8e8e"/><ellipse cx="419.5" cy="287.7" rx="1.9" ry="1.2" fill="#828282"/><ellipse cx="407.8" cy="262.8" rx="1.9" ry="1.8" fill="#aaaaaa"/><ellipse cx="398.6" cy="246.6" rx="1.5" ry="1.6" fill="#8e8e8e"/><ellipse cx="413.8" cy="326.7" rx="1.5" ry="1.4" fill="#dadada"/><ellipse cx="400.6" cy="272.8" rx="1.5" ry="1.6" fill="#a6a6a6"/><ellipse cx="417.0" cy="365.3" rx="1.6" ry="1.6" fill="#cacaca"/><ellipse cx="411.7" cy="333.6" rx="1.7" ry="1.6" fill="#aaaaaa"/><ellipse cx="418.0" cy="343.9" rx="1.4" ry="1.5" fill="#a6a6a6"/><ellipse cx="421.7" cy="314.2" rx="1.5" ry="1.5" fill="#bebebe"/><ellipse cx="405.6" cy="339.1" rx="1.5" ry="1.5" fill="#b2b2b2"/><ellipse cx="395.8" cy="281.4" rx="2.0" ry="1.4" fill="#cacaca"/><ellipse cx="411.4" cy="253.9" rx="1.4" ry="1.6" fill="#b2b2b2"/><ellipse cx="399.1" cy="328.7" rx="2.0" ry="1.5" fill="#8e8e8e"/><ellipse cx="401.9" cy="331.2" rx="1.3" ry="2.0" fill="#828282"/><ellipse cx="420.8" cy="308.4" rx="1.9" ry="1.4" fill="#8e8e8e"/><ellipse cx="415.4" cy="355.9" rx="1.3" ry="1.4" fill="#8e8e8e"/><ellipse cx="405.6" cy="328.5" rx="1.9" ry="1.6" fill="#8e8e8e"/><ellipse cx="423.5" cy="281.5" rx="1.7" ry="1.4" fill="#b2b2b2"/><ellipse cx="416.5" cy="328.5" rx="1.8" ry="1.4" fill="#aaaaaa"/><ellipse cx="404.1" cy="360.5" rx="1.9" ry="1.3" fill="#cacaca"/><ellipse cx="391.5" cy="333.1" rx="1.2" ry="1.6" fill="#cacaca"/><ellipse cx="400.6" cy="280.4" rx="1.4" ry="1.7" fill="#b2b2b2"/><ellipse cx="413.5" cy="329.0" rx="1.8" ry="1.4" fill="#828282"/><ellipse cx="409.6" cy="324.9" rx="1.6" ry="1.5" fill="#b2b2b2"/><ellipse cx="387.1" cy="308.5" rx="1.5" ry="1.8" fill="#969696"/><ellipse cx="408.4" cy="314.0" rx="1.3" ry="1.7" fill="#969696"/><ellipse cx="404.1" cy="374.1" rx="1.4" ry="1.9" fill="#a6a6a6"/><ellipse cx="415.8" cy="262.5" rx="1.8" ry="1.6" fill="#aaaaaa"/><ellipse cx="402.2" cy="270.4" rx="2.0" ry="1.8" fill="#b2b2b2"/><ellipse cx="415.9" cy="285.8" rx="2.0" ry="1.8" fill="#9a9a9a"/><ellipse cx="403.6" cy="253.5" rx="2.0" ry="1.6" fill="#969696"/><ellipse cx="425.4" cy="283.9" rx="1.4" ry="1.4" fill="#bebebe"/><ellipse cx="423.3" cy="324.9" rx="1.6" ry="1.5" fill="#dadada"/><ellipse cx="391.2" cy="268.5" rx="1.6" ry="1.5" fill="#8e8e8e"/><ellipse cx="417.1" cy="273.6" rx="1.5" ry="1.6" fill="#cacaca"/><ellipse cx="391.7" cy="254.8" rx="1.4" ry="1.3" fill="#cacaca"/><ellipse cx="425.9" cy="315.8" rx="1.8" ry="1.3" fill="#969696"/><ellipse cx="424.2" cy="240.5" rx="1.6" ry="1.9" fill="#aaaaaa"/><ellipse cx="400.7" cy="362.6" rx="1.5" ry="1.6" fill="#9a9a9a"/><ellipse cx="416.0" cy="368.6" rx="2.0" ry="1.7" fill="#dadada"/><ellipse cx="418.9" cy="303.2" rx="1.4" ry="1.3" fill="#8e8e8e"/><ellipse cx="424.1" cy="266.1" rx="1.9" ry="1.8" fill="#b2b2b2"/><ellipse cx="388.1" cy="308.1" rx="1.5" ry="2.0" fill="#aaaaaa"/><ellipse cx="392.8" cy="316.5" rx="1.6" ry="1.7" fill="#969696"/><ellipse cx="413.8" cy="351.4" rx="1.3" ry="1.8" fill="#aaaaaa"/><ellipse cx="404.3" cy="243.7" rx="1.7" ry="1.5" fill="#969696"/><ellipse cx="390.8" cy="258.5" rx="1.7" ry="1.5" fill="#bebebe"/><ellipse cx="420.8" cy="293.1" rx="1.4" ry="2.0" fill="#a6a6a6"/><ellipse cx="406.6" cy="317.3" rx="1.2" ry="1.6" fill="#cacaca"/><ellipse cx="418.8" cy="333.3" rx="1.7" ry="1.5" fill="#828282"/><ellipse cx="417.8" cy="283.5" rx="1.8" ry="1.4" fill="#a6a6a6"/><ellipse cx="393.2" cy="325.8" rx="1.4" ry="1.3" fill="#aaaaaa"/><ellipse cx="420.9" cy="331.1" rx="1.3" ry="1.8" fill="#a6a6a6"/><ellipse cx="396.1" cy="353.3" rx="2.0" ry="1.4" fill="#8e8e8e"/><ellipse cx="409.7" cy="349.1" rx="1.9" ry="1.6" fill="#aaaaaa"/><ellipse cx="398.6" cy="294.9" rx="1.9" ry="1.7" fill="#cacaca"/><ellipse cx="405.9" cy="325.8" rx="1.6" ry="1.5" fill="#cacaca"/><ellipse cx="413.3" cy="370.4" rx="1.5" ry="1.3" fill="#9e9e9e"/><ellipse cx="410.8" cy="363.9" rx="1.8" ry="1.6" fill="#b2b2b2"/><ellipse cx="395.6" cy="298.6" rx="1.7" ry="1.4" fill="#bebebe"/><ellipse cx="420.6" cy="325.0" rx="1.2" ry="1.7" fill="#9e9e9e"/><ellipse cx="421.6" cy="360.2" rx="1.4" ry="1.5" fill="#969696"/><ellipse cx="398.2" cy="355.2" rx="1.7" ry="1.5" fill="#bebebe"/><ellipse cx="401.8" cy="258.7" rx="1.6" ry="2.0" fill="#8e8e8e"/><ellipse cx="388.0" cy="317.4" rx="1.5" ry="1.6" fill="#9a9a9a"/><ellipse cx="412.8" cy="288.4" rx="1.5" ry="1.3" fill="#a6a6a6"/><ellipse cx="420.4" cy="255.5" rx="1.8" ry="2.0" fill="#828282"/><ellipse cx="400.3" cy="340.9" rx="1.8" ry="1.3" fill="#9a9a9a"/><ellipse cx="415.3" cy="268.0" rx="1.2" ry="1.7" fill="#dadada"/><ellipse cx="409.0" cy="293.9" rx="1.5" ry="1.9" fill="#a6a6a6"/><ellipse cx="408.5" cy="350.3" rx="1.9" ry="1.7" fill="#a6a6a6"/><ellipse cx="431.9" cy="292.7" rx="1.6" ry="1.6" fill="#828282"/><ellipse cx="416.8" cy="278.8" rx="1.5" ry="1.8" fill="#aaaaaa"/><ellipse cx="409.0" cy="364.1" rx="1.5" ry="1.9" fill="#828282"/><ellipse cx="394.0" cy="328.3" rx="1.4" ry="1.7" fill="#dadada"/><ellipse cx="384.7" cy="308.3" rx="1.8" ry="1.8" fill="#aaaaaa"/><ellipse cx="406.9" cy="312.4" rx="1.6" ry="1.4" fill="#9e9e9e"/><ellipse cx="402.9" cy="267.9" rx="1.6" ry="1.5" fill="#969696"/><ellipse cx="414.2" cy="269.0" rx="1.3" ry="1.7" fill="#9e9e9e"/><ellipse cx="419.1" cy="276.5" rx="1.4" ry="1.7" fill="#aaaaaa"/><ellipse cx="413.9" cy="241.6" rx="1.7" ry="1.4" fill="#b2b2b2"/><ellipse cx="425.9" cy="248.7" rx="1.4" ry="1.8" fill="#b2b2b2"/><ellipse cx="410.8" cy="256.7" rx="1.2" ry="1.8" fill="#a6a6a6"/><ellipse cx="398.3" cy="310.5" rx="1.5" ry="1.6" fill="#9e9e9e"/><ellipse cx="404.3" cy="331.1" rx="1.6" ry="1.9" fill="#969696"/><ellipse cx="396.1" cy="251.1" rx="1.7" ry="1.5" fill="#aaaaaa"/><ellipse cx="408.5" cy="356.5" rx="1.6" ry="1.9" fill="#969696"/><ellipse cx="403.4" cy="365.5" rx="1.6" ry="1.8" fill="#dadada"/><ellipse cx="427.1" cy="305.9" rx="1.8" ry="1.6" fill="#b2b2b2"/><ellipse cx="416.6" cy="343.7" rx="1.2" ry="2.0" fill="#828282"/><ellipse cx="413.0" cy="320.8" rx="1.9" ry="1.4" fill="#9a9a9a"/><ellipse cx="388.0" cy="293.0" rx="1.4" ry="1.9" fill="#a6a6a6"/><ellipse cx="402.1" cy="310.9" rx="1.9" ry="1.7" fill="#bebebe"/><ellipse cx="418.5" cy="295.5" rx="1.8" ry="1.3" fill="#8e8e8e"/><ellipse cx="405.9" cy="308.7" rx="1.5" ry="1.5" fill="#bebebe"/><ellipse cx="412.2" cy="238.4" rx="1.5" ry="1.5" fill="#b2b2b2"/><ellipse cx="413.2" cy="353.7" rx="1.2" ry="2.0" fill="#dadada"/><ellipse cx="421.5" cy="285.7" rx="1.4" ry="1.3" fill="#828282"/><ellipse cx="391.1" cy="241.5" rx="1.6" ry="1.6" fill="#8e8e8e"/><ellipse cx="431.9" cy="305.6" rx="1.2" ry="1.6" fill="#b2b2b2"/><ellipse cx="415.4" cy="339.0" rx="1.7" ry="1.2" fill="#dadada"/><ellipse cx="421.0" cy="340.8" rx="1.7" ry="1.3" fill="#8e8e8e"/><ellipse cx="403.7" cy="322.8" rx="1.5" ry="1.8" fill="#a6a6a6"/><ellipse cx="391.9" cy="298.0" rx="2.0" ry="1.2" fill="#b2b2b2"/><ellipse cx="416.7" cy="358.5" rx="1.4" ry="1.7" fill="#9e9e9e"/><ellipse cx="405.7" cy="258.5" rx="1.7" ry="1.7" fill="#9a9a9a"/><ellipse cx="398.5" cy="308.6" rx="2.0" ry="1.4" fill="#9e9e9e"/><ellipse cx="406.0" cy="262.9" rx="1.6" ry="1.5" fill="#b2b2b2"/><ellipse cx="389.3" cy="313.8" rx="1.8" ry="1.3" fill="#bebebe"/><ellipse cx="409.4" cy="296.2" rx="2.0" ry="1.4" fill="#9e9e9e"/><ellipse cx="420.4" cy="323.8" rx="1.3" ry="2.0" fill="#828282"/><ellipse cx="409.6" cy="245.6" rx="1.3" ry="1.6" fill="#9e9e9e"/><ellipse cx="427.0" cy="313.6" rx="1.7" ry="1.7" fill="#8e8e8e"/><ellipse cx="423.3" cy="273.4" rx="1.5" ry="1.4" fill="#a6a6a6"/><ellipse cx="406.0" cy="245.7" rx="1.7" ry="1.4" fill="#9e9e9e"/><ellipse cx="421.7" cy="333.4" rx="1.3" ry="1.6" fill="#828282"/><ellipse cx="407.9" cy="270.5" rx="1.5" ry="2.0" fill="#828282"/><ellipse cx="390.4" cy="245.2" rx="1.6" ry="1.3" fill="#cacaca"/><ellipse cx="396.6" cy="236.2" rx="1.8" ry="1.7" fill="#9a9a9a"/><ellipse cx="395.8" cy="361.3" rx="1.2" ry="2.0" fill="#b2b2b2"/><ellipse cx="400.6" cy="317.6" rx="1.3" ry="1.9" fill="#b2b2b2"/><ellipse cx="413.5" cy="254.0" rx="1.5" ry="1.8" fill="#b2b2b2"/><ellipse cx="407.2" cy="280.5" rx="1.6" ry="1.8" fill="#dadada"/><ellipse cx="422.2" cy="271.3" rx="1.5" ry="1.4" fill="#dadada"/><ellipse cx="399.2" cy="336.1" rx="1.5" ry="1.3" fill="#9e9e9e"/><ellipse cx="408.5" cy="238.6" rx="1.5" ry="1.5" fill="#dadada"/><ellipse cx="423.9" cy="278.8" rx="2.0" ry="1.7" fill="#bebebe"/><ellipse cx="425.3" cy="311.1" rx="1.6" ry="1.3" fill="#8e8e8e"/><ellipse cx="409.2" cy="302.5" rx="1.6" ry="2.0" fill="#969696"/><ellipse cx="403.1" cy="291.3" rx="1.4" ry="1.4" fill="#b2b2b2"/><ellipse cx="398.0" cy="250.9" rx="2.0" ry="1.8" fill="#dadada"/><ellipse cx="393.7" cy="254.1" rx="1.6" ry="1.8" fill="#b2b2b2"/><ellipse cx="406.4" cy="288.6" rx="1.8" ry="1.8" fill="#828282"/><ellipse cx="418.8" cy="320.7" rx="1.5" ry="1.5" fill="#a6a6a6"/><ellipse cx="408.8" cy="372.5" rx="1.6" ry="1.2" fill="#a6a6a6"/><ellipse cx="386.2" cy="313.6" rx="1.6" ry="1.8" fill="#9e9e9e"/><ellipse cx="409.0" cy="354.0" rx="1.3" ry="2.0" fill="#cacaca"/><ellipse cx="418.7" cy="253.9" rx="1.6" ry="1.6" fill="#dadada"/><ellipse cx="417.9" cy="351.2" rx="1.4" ry="1.8" fill="#8e8e8e"/><ellipse cx="408.3" cy="241.5" rx="1.6" ry="1.3" fill="#cacaca"/><ellipse cx="401.6" cy="352.4" rx="1.8" ry="1.6" fill="#a6a6a6"/><ellipse cx="391.3" cy="340.2" rx="2.0" ry="1.6" fill="#cacaca"/><ellipse cx="416.0" cy="241.7" rx="1.6" ry="1.5" fill="#dadada"/><ellipse cx="404.5" cy="309.9" rx="1.4" ry="1.5" fill="#9e9e9e"/><ellipse cx="425.7" cy="262.6" rx="1.3" ry="1.4" fill="#8e8e8e"/><ellipse cx="398.2" cy="283.2" rx="2.0" ry="1.4" fill="#dadada"/><ellipse cx="424.0" cy="358.9" rx="1.5" ry="2.0" fill="#8e8e8e"/><ellipse cx="404.3" cy="278.4" rx="1.3" ry="1.5" fill="#9a9a9a"/><ellipse cx="415.7" cy="292.9" rx="1.7" ry="2.0" fill="#8e8e8e"/><ellipse cx="422.1" cy="262.6" rx="1.4" ry="1.4" fill="#8e8e8e"/><ellipse cx="415.9" cy="336.7" rx="1.5" ry="1.4" fill="#cacaca"/><ellipse cx="403.4" cy="274.9" rx="1.4" ry="1.8" fill="#a6a6a6"/><ellipse cx="401.6" cy="276.1" rx="1.5" ry="1.5" fill="#dadada"/><ellipse cx="393.6" cy="278.1" rx="2.0" ry="1.8" fill="#9a9a9a"/><ellipse cx="403.5" cy="313.1" rx="1.6" ry="1.8" fill="#969696"/><ellipse cx="418.7" cy="300.0" rx="1.4" ry="1.4" fill="#b2b2b2"/><ellipse cx="392.0" cy="273.8" rx="1.6" ry="1.7" fill="#bebebe"/><ellipse cx="418.3" cy="298.2" rx="1.6" ry="1.6" fill="#828282"/><ellipse cx="400.4" cy="348.7" rx="1.7" ry="1.8" fill="#bebebe"/><ellipse cx="406.2" cy="359.2" rx="1.6" ry="1.4" fill="#b2b2b2"/><ellipse cx="416.3" cy="361.5" rx="1.5" ry="1.6" fill="#dadada"/><ellipse cx="391.9" cy="253.4" rx="1.8" ry="1.7" fill="#cacaca"/><ellipse cx="394.3" cy="256.7" rx="1.4" ry="1.8" fill="#828282"/><ellipse cx="410.3" cy="301.3" rx="1.8" ry="1.7" fill="#9e9e9e"/><ellipse cx="418.8" cy="356.0" rx="1.6" ry="1.3" fill="#969696"/><ellipse cx="396.6" cy="336.0" rx="1.8" ry="1.3" fill="#dadada"/><ellipse cx="405.3" cy="247.9" rx="1.3" ry="1.9" fill="#828282"/><ellipse cx="411.6" cy="276.5" rx="1.8" ry="1.4" fill="#9a9a9a"/><ellipse cx="399.5" cy="363.9" rx="1.8" ry="1.5" fill="#9e9e9e"/><ellipse cx="408.7" cy="252.5" rx="1.4" ry="1.9" fill="#9a9a9a"/><ellipse cx="415.8" cy="333.0" rx="1.3" ry="1.9" fill="#bebebe"/><ellipse cx="423.3" cy="318.7" rx="1.4" ry="1.4" fill="#a6a6a6"/><ellipse cx="416.5" cy="341.0" rx="1.8" ry="1.3" fill="#8e8e8e"/><ellipse cx="414.0" cy="332.4" rx="1.6" ry="1.6" fill="#b2b2b2"/><ellipse cx="414.2" cy="341.1" rx="1.5" ry="1.5" fill="#dadada"/><ellipse cx="414.2" cy="290.2" rx="2.0" ry="1.4" fill="#969696"/><ellipse cx="405.8" cy="240.0" rx="1.6" ry="1.6" fill="#828282"/><ellipse cx="396.0" cy="309.0" rx="1.5" ry="1.3" fill="#cacaca"/><ellipse cx="395.6" cy="301.6" rx="1.5" ry="1.4" fill="#9e9e9e"/><ellipse cx="392.9" cy="259.8" rx="1.6" ry="1.2" fill="#b2b2b2"/><ellipse cx="404.5" cy="357.4" rx="1.4" ry="1.4" fill="#bebebe"/><ellipse cx="392.8" cy="276.3" rx="1.3" ry="1.4" fill="#aaaaaa"/><ellipse cx="393.5" cy="295.6" rx="1.5" ry="2.0" fill="#969696"/><ellipse cx="391.5" cy="311.4" rx="1.7" ry="1.9" fill="#aaaaaa"/><ellipse cx="413.7" cy="313.2" rx="1.6" ry="1.9" fill="#bebebe"/><ellipse cx="410.9" cy="341.5" rx="1.4" ry="2.0" fill="#8e8e8e"/><ellipse cx="414.7" cy="234.9" rx="1.4" ry="1.5" fill="#a6a6a6"/><ellipse cx="401.2" cy="237.7" rx="1.8" ry="1.4" fill="#dadada"/><ellipse cx="416.8" cy="316.0" rx="1.6" ry="1.5" fill="#a6a6a6"/><ellipse cx="422.9" cy="350.1" rx="1.8" ry="1.3" fill="#dadada"/><ellipse cx="424.3" cy="341.4" rx="1.7" ry="1.5" fill="#b2b2b2"/><ellipse cx="411.7" cy="367.6" rx="1.6" ry="1.5" fill="#9a9a9a"/><ellipse cx="412.2" cy="273.1" rx="2.0" ry="1.6" fill="#9a9a9a"/><ellipse cx="415.9" cy="281.4" rx="1.3" ry="2.0" fill="#bebebe"/><ellipse cx="411.8" cy="308.9" rx="1.8" ry="1.7" fill="#cacaca"/><ellipse cx="423.7" cy="356.4" rx="1.7" ry="1.5" fill="#dadada"/><ellipse cx="418.4" cy="241.0" rx="2.0" ry="1.3" fill="#8e8e8e"/><ellipse cx="396.7" cy="245.6" rx="1.8" ry="1.5" fill="#a6a6a6"/><ellipse cx="400.8" cy="300.4" rx="1.8" ry="1.3" fill="#8e8e8e"/><ellipse cx="429.0" cy="315.7" rx="1.5" ry="1.6" fill="#bebebe"/><ellipse cx="404.3" cy="263.3" rx="1.8" ry="1.5" fill="#828282"/><ellipse cx="392.1" cy="361.6" rx="1.6" ry="1.6" fill="#dadada"/><ellipse cx="402.9" cy="247.6" rx="1.7" ry="1.7" fill="#969696"/><ellipse cx="414.2" cy="293.5" rx="1.3" ry="1.9" fill="#a6a6a6"/><ellipse cx="415.5" cy="344.9" rx="1.6" ry="2.0" fill="#8e8e8e"/><ellipse cx="393.8" cy="322.3" rx="2.0" ry="1.3" fill="#828282"/><ellipse cx="411.9" cy="321.0" rx="1.8" ry="1.2" fill="#dadada"/><ellipse cx="409.5" cy="337.5" rx="1.6" ry="2.0" fill="#828282"/><ellipse cx="411.4" cy="327.9" rx="1.6" ry="1.6" fill="#b2b2b2"/><ellipse cx="400.8" cy="263.3" rx="1.4" ry="1.8" fill="#a6a6a6"/><ellipse cx="409.6" cy="256.0" rx="1.5" ry="1.2" fill="#9e9e9e"/><ellipse cx="388.9" cy="300.0" rx="1.3" ry="1.8" fill="#828282"/><ellipse cx="408.4" cy="365.5" rx="1.7" ry="1.7" fill="#8e8e8e"/><ellipse cx="384.0" cy="296.2" rx="1.7" ry="1.6" fill="#828282"/><ellipse cx="395.5" cy="359.2" rx="1.6" ry="1.3" fill="#9a9a9a"/><ellipse cx="390.6" cy="306.7" rx="1.5" ry="1.5" fill="#9a9a9a"/><ellipse cx="411.5" cy="290.1" rx="1.8" ry="1.7" fill="#8e8e8e"/><ellipse cx="407.0" cy="321.5" rx="1.5" ry="1.5" fill="#aaaaaa"/><ellipse cx="411.0" cy="266.7" rx="1.4" ry="1.8" fill="#9a9a9a"/><ellipse cx="403.0" cy="288.3" rx="1.3" ry="2.0" fill="#bebebe"/><ellipse cx="400.9" cy="367.7" rx="1.3" ry="1.5" fill="#9a9a9a"/><ellipse cx="411.0" cy="344.0" rx="1.8" ry="1.4" fill="#9e9e9e"/><ellipse cx="391.6" cy="304.0" rx="1.8" ry="1.7" fill="#b2b2b2"/><ellipse cx="394.7" cy="251.3" rx="1.6" ry="1.9" fill="#9e9e9e"/><ellipse cx="413.6" cy="309.8" rx="1.7" ry="1.8" fill="#bebebe"/><ellipse cx="400.9" cy="320.1" rx="1.3" ry="1.7" fill="#8e8e8e"/><ellipse cx="413.3" cy="373.2" rx="1.5" ry="1.9" fill="#bebebe"/><ellipse cx="400.3" cy="356.0" rx="1.8" ry="1.7" fill="#969696"/><ellipse cx="398.1" cy="370.2" rx="1.6" ry="1.5" fill="#b2b2b2"/><ellipse cx="404.1" cy="316.7" rx="1.8" ry="1.5" fill="#aaaaaa"/><ellipse cx="424.0" cy="253.5" rx="1.4" ry="1.4" fill="#8e8e8e"/><ellipse cx="386.3" cy="293.6" rx="1.6" ry="1.7" fill="#cacaca"/><ellipse cx="400.4" cy="239.9" rx="1.4" ry="1.5" fill="#aaaaaa"/><ellipse cx="421.3" cy="288.0" rx="1.4" ry="1.2" fill="#cacaca"/><ellipse cx="400.7" cy="243.9" rx="1.3" ry="1.7" fill="#828282"/><ellipse cx="396.2" cy="257.9" rx="1.5" ry="1.2" fill="#b2b2b2"/><ellipse cx="418.4" cy="335.0" rx="2.0" ry="1.6" fill="#a6a6a6"/><ellipse cx="417.1" cy="363.2" rx="1.4" ry="1.9" fill="#dadada"/><ellipse cx="389.0" cy="291.2" rx="1.3" ry="1.7" fill="#bebebe"/><ellipse cx="399.3" cy="262.3" rx="1.4" ry="1.6" fill="#dadada"/><ellipse cx="401.1" cy="346.4" rx="1.8" ry="2.0" fill="#a6a6a6"/><ellipse cx="402.8" cy="303.3" rx="1.4" ry="1.7" fill="#dadada"/><ellipse cx="422.1" cy="296.7" rx="1.9" ry="1.8" fill="#9a9a9a"/><ellipse cx="398.8" cy="320.4" rx="1.6" ry="1.4" fill="#a6a6a6"/><ellipse cx="422.8" cy="291.5" rx="1.7" ry="1.7" fill="#aaaaaa"/><ellipse cx="398.9" cy="291.2" rx="1.5" ry="1.4" fill="#bebebe"/><ellipse cx="421.7" cy="357.4" rx="1.4" ry="1.6" fill="#969696"/><ellipse cx="411.7" cy="338.8" rx="1.6" ry="1.8" fill="#bebebe"/><ellipse cx="394.5" cy="339.2" rx="1.2" ry="2.0" fill="#aaaaaa"/><ellipse cx="386.7" cy="296.6" rx="1.5" ry="1.5" fill="#dadada"/><ellipse cx="415.6" cy="371.7" rx="1.6" ry="1.4" fill="#b2b2b2"/><ellipse cx="399.5" cy="313.6" rx="1.7" ry="1.3" fill="#b2b2b2"/><ellipse cx="423.6" cy="342.8" rx="1.6" ry="1.5" fill="#9a9a9a"/><ellipse cx="403.8" cy="338.7" rx="1.7" ry="1.6" fill="#aaaaaa"/><ellipse cx="416.8" cy="321.5" rx="1.3" ry="1.5" fill="#a6a6a6"/><ellipse cx="394.3" cy="351.7" rx="1.9" ry="1.3" fill="#b2b2b2"/><ellipse cx="414.6" cy="304.2" rx="1.5" ry="1.6" fill="#bebebe"/><ellipse cx="399.2" cy="368.7" rx="2.0" ry="1.5" fill="#b2b2b2"/><ellipse cx="416.7" cy="323.1" rx="1.8" ry="1.5" fill="#a6a6a6"/><ellipse cx="414.5" cy="274.2" rx="1.4" ry="1.6" fill="#bebebe"/><ellipse cx="413.2" cy="296.6" rx="2.0" ry="1.7" fill="#aaaaaa"/><ellipse cx="418.5" cy="371.5" rx="1.3" ry="1.5" fill="#9e9e9e"/><ellipse cx="404.2" cy="235.8" rx="1.9" ry="1.4" fill="#cacaca"/><ellipse cx="407.2" cy="236.5" rx="1.8" ry="1.5" fill="#8e8e8e"/><ellipse cx="392.2" cy="330.1" rx="1.6" ry="1.9" fill="#a6a6a6"/><ellipse cx="421.3" cy="338.6" rx="2.0" ry="1.7" fill="#9e9e9e"/><ellipse cx="414.7" cy="367.4" rx="1.9" ry="1.7" fill="#aaaaaa"/><ellipse cx="424.1" cy="288.8" rx="1.3" ry="1.8" fill="#9a9a9a"/><ellipse cx="405.4" cy="372.9" rx="1.8" ry="1.7" fill="#9e9e9e"/><ellipse cx="406.2" cy="364.8" rx="1.5" ry="1.8" fill="#969696"/><ellipse cx="392.8" cy="355.7" rx="1.4" ry="1.9" fill="#b2b2b2"/><ellipse cx="414.0" cy="322.9" rx="1.8" ry="1.5" fill="#9e9e9e"/><ellipse cx="419.1" cy="247.9" rx="1.9" ry="1.7" fill="#8e8e8e"/><ellipse cx="409.0" cy="285.5" rx="1.9" ry="1.8" fill="#aaaaaa"/><ellipse cx="394.2" cy="342.3" rx="1.6" ry="1.8" fill="#b2b2b2"/><ellipse cx="424.2" cy="238.0" rx="1.8" ry="1.4" fill="#8e8e8e"/><ellipse cx="403.2" cy="246.2" rx="1.4" ry="1.8" fill="#cacaca"/><ellipse cx="407.2" cy="250.1" rx="1.6" ry="1.4" fill="#9e9e9e"/><ellipse cx="393.9" cy="310.9" rx="1.5" ry="2.0" fill="#aaaaaa"/><ellipse cx="393.0" cy="287.9" rx="1.3" ry="2.0" fill="#a6a6a6"/><ellipse cx="388.2" cy="285.2" rx="1.5" ry="1.6" fill="#cacaca"/><ellipse cx="417.9" cy="246.3" rx="1.5" ry="2.0" fill="#8e8e8e"/><ellipse cx="395.8" cy="340.9" rx="1.4" ry="1.4" fill="#aaaaaa"/><ellipse cx="415.3" cy="236.1" rx="1.3" ry="1.4" fill="#8e8e8e"/><ellipse cx="414.7" cy="316.3" rx="1.7" ry="1.3" fill="#9e9e9e"/><ellipse cx="398.6" cy="256.7" rx="1.6" ry="1.5" fill="#9a9a9a"/><ellipse cx="419.3" cy="281.6" rx="1.5" ry="1.7" fill="#b2b2b2"/><ellipse cx="411.0" cy="330.0" rx="1.6" ry="1.6" fill="#cacaca"/><ellipse cx="411.5" cy="292.5" rx="1.6" ry="1.7" fill="#aaaaaa"/><ellipse cx="398.9" cy="277.3" rx="2.0" ry="1.8" fill="#969696"/><ellipse cx="429.7" cy="299.1" rx="1.7" ry="1.6" fill="#aaaaaa"/><ellipse cx="423.0" cy="271.0" rx="1.5" ry="1.3" fill="#bebebe"/><ellipse cx="406.1" cy="352.4" rx="1.2" ry="2.0" fill="#9a9a9a"/><ellipse cx="404.4" cy="266.4" rx="1.8" ry="1.7" fill="#b2b2b2"/><ellipse cx="419.6" cy="309.1" rx="1.6" ry="1.3" fill="#8e8e8e"/><ellipse cx="410.8" cy="267.4" rx="1.4" ry="1.6" fill="#dadada"/><ellipse cx="399.4" cy="342.3" rx="1.7" ry="1.7" fill="#bebebe"/><ellipse cx="406.3" cy="341.7" rx="1.3" ry="1.8" fill="#828282"/><ellipse cx="391.2" cy="312.3" rx="1.7" ry="1.6" fill="#bebebe"/><ellipse cx="427.9" cy="319.0" rx="1.6" ry="1.9" fill="#b2b2b2"/><ellipse cx="401.2" cy="292.3" rx="1.4" ry="1.2" fill="#9e9e9e"/><ellipse cx="421.8" cy="267.8" rx="1.4" ry="1.3" fill="#828282"/><ellipse cx="394.2" cy="240.2" rx="1.8" ry="1.4" fill="#969696"/><ellipse cx="418.6" cy="309.9" rx="1.5" ry="1.8" fill="#9a9a9a"/><ellipse cx="431.4" cy="302.7" rx="1.3" ry="2.0" fill="#9e9e9e"/><ellipse cx="399.1" cy="326.6" rx="1.7" ry="1.6" fill="#828282"/><ellipse cx="420.9" cy="245.4" rx="1.2" ry="2.0" fill="#a6a6a6"/><ellipse cx="394.7" cy="267.7" rx="1.8" ry="1.9" fill="#9a9a9a"/><ellipse cx="389.5" cy="288.5" rx="1.5" ry="1.5" fill="#aaaaaa"/><ellipse cx="431.3" cy="308.2" rx="1.5" ry="1.6" fill="#a6a6a6"/><ellipse cx="420.8" cy="290.9" rx="1.8" ry="1.4" fill="#dadada"/><ellipse cx="404.6" cy="367.7" rx="1.2" ry="2.0" fill="#9a9a9a"/><ellipse cx="426.5" cy="265.2" rx="1.8" ry="1.5" fill="#9e9e9e"/><ellipse cx="419.5" cy="286.3" rx="1.8" ry="1.7" fill="#dadada"/><ellipse cx="396.0" cy="364.8" rx="1.6" ry="1.7" fill="#dadada"/><ellipse cx="419.3" cy="235.0" rx="1.7" ry="1.8" fill="#828282"/><ellipse cx="411.3" cy="366.3" rx="1.2" ry="1.8" fill="#8e8e8e"/><ellipse cx="404.1" cy="325.4" rx="1.5" ry="1.4" fill="#9e9e9e"/><ellipse cx="411.0" cy="318.1" rx="1.7" ry="1.3" fill="#969696"/><ellipse cx="416.1" cy="300.4" rx="2.0" ry="1.6" fill="#969696"/><ellipse cx="412.0" cy="351.7" rx="1.6" ry="1.8" fill="#a6a6a6"/><ellipse cx="406.0" cy="268.9" rx="1.2" ry="1.9" fill="#bebebe"/><ellipse cx="397.0" cy="282.9" rx="1.8" ry="1.6" fill="#9e9e9e"/><ellipse cx="397.9" cy="341.7" rx="1.8" ry="1.9" fill="#a6a6a6"/><ellipse cx="420.5" cy="297.9" rx="1.5" ry="1.6" fill="#828282"/><ellipse cx="396.3" cy="349.1" rx="1.7" ry="1.4" fill="#969696"/><ellipse cx="391.8" cy="342.8" rx="1.6" ry="1.7" fill="#aaaaaa"/><ellipse cx="407.0" cy="276.3" rx="1.7" ry="1.8" fill="#dadada"/><ellipse cx="409.3" cy="336.1" rx="1.5" ry="1.9" fill="#aaaaaa"/><ellipse cx="424.5" cy="320.4" rx="1.6" ry="1.6" fill="#828282"/><ellipse cx="396.3" cy="260.5" rx="1.7" ry="1.9" fill="#9a9a9a"/><ellipse cx="410.7" cy="260.1" rx="1.5" ry="1.4" fill="#aaaaaa"/><ellipse cx="414.2" cy="275.7" rx="1.2" ry="1.4" fill="#bebebe"/><ellipse cx="391.0" cy="300.4" rx="1.6" ry="1.7" fill="#bebebe"/><ellipse cx="400.7" cy="266.6" rx="1.6" ry="1.7" fill="#9a9a9a"/><ellipse cx="393.1" cy="286.6" rx="1.5" ry="1.8" fill="#8e8e8e"/><ellipse cx="422.9" cy="300.2" rx="1.8" ry="1.7" fill="#a6a6a6"/><ellipse cx="421.6" cy="260.2" rx="1.3" ry="2.0" fill="#cacaca"/><ellipse cx="422.9" cy="315.4" rx="1.8" ry="1.7" fill="#828282"/><ellipse cx="420.3" cy="235.7" rx="1.4" ry="1.5" fill="#9e9e9e"/><ellipse cx="406.2" cy="332.3" rx="1.6" ry="1.6" fill="#cacaca"/><ellipse cx="393.2" cy="339.9" rx="2.0" ry="1.4" fill="#828282"/><ellipse cx="409.1" cy="248.0" rx="1.2" ry="1.6" fill="#828282"/><ellipse cx="411.4" cy="326.0" rx="1.6" ry="1.6" fill="#969696"/><ellipse cx="400.8" cy="313.4" rx="1.8" ry="1.3" fill="#8e8e8e"/><ellipse cx="404.6" cy="283.8" rx="1.4" ry="1.7" fill="#8e8e8e"/><ellipse cx="399.2" cy="337.3" rx="1.9" ry="1.7" fill="#dadada"/><ellipse cx="408.0" cy="278.1" rx="1.9" ry="1.8" fill="#969696"/><ellipse cx="422.8" cy="345.4" rx="1.8" ry="1.9" fill="#dadada"/><ellipse cx="409.7" cy="236.3" rx="1.7" ry="1.8" fill="#969696"/><ellipse cx="418.1" cy="312.8" rx="1.7" ry="1.8" fill="#828282"/><ellipse cx="391.5" cy="235.2" rx="1.8" ry="1.7" fill="#dadada"/><ellipse cx="401.1" cy="343.6" rx="1.6" ry="1.5" fill="#b2b2b2"/><ellipse cx="396.9" cy="263.8" rx="1.2" ry="1.7" fill="#969696"/><ellipse cx="386.4" cy="299.0" rx="1.4" ry="1.4" fill="#9e9e9e"/><ellipse cx="407.0" cy="253.1" rx="1.3" ry="2.0" fill="#828282"/><ellipse cx="399.0" cy="248.8" rx="1.4" ry="1.8" fill="#cacaca"/><ellipse cx="427.0" cy="289.1" rx="1.4" ry="1.5" fill="#dadada"/><ellipse cx="413.0" cy="280.7" rx="1.5" ry="1.2" fill="#8e8e8e"/><ellipse cx="423.9" cy="294.8" rx="1.5" ry="1.3" fill="#8e8e8e"/><ellipse cx="425.3" cy="267.9" rx="1.4" ry="1.6" fill="#9a9a9a"/><ellipse cx="404.0" cy="342.4" rx="1.5" ry="1.9" fill="#cacaca"/><ellipse cx="398.4" cy="333.2" rx="1.3" ry="1.9" fill="#9e9e9e"/><ellipse cx="393.3" cy="346.7" rx="1.6" ry="1.4" fill="#8e8e8e"/><ellipse cx="394.1" cy="313.7" rx="1.6" ry="1.9" fill="#9a9a9a"/><ellipse cx="403.9" cy="341.1" rx="1.6" ry="1.4" fill="#dadada"/><ellipse cx="414.3" cy="249.1" rx="1.6" ry="1.3" fill="#dadada"/><ellipse cx="417.1" cy="243.4" rx="1.5" ry="1.5" fill="#aaaaaa"/><ellipse cx="406.2" cy="331.6" rx="1.6" ry="2.0" fill="#a6a6a6"/><ellipse cx="391.0" cy="281.6" rx="1.7" ry="1.8" fill="#dadada"/><ellipse cx="399.5" cy="239.9" rx="1.8" ry="1.8" fill="#dadada"/><ellipse cx="398.0" cy="360.0" rx="1.7" ry="1.6" fill="#a6a6a6"/><ellipse cx="417.9" cy="255.3" rx="1.7" ry="1.5" fill="#8e8e8e"/><ellipse cx="405.9" cy="272.9" rx="1.6" ry="1.5" fill="#9e9e9e"/><ellipse cx="419.4" cy="242.4" rx="1.8" ry="2.0" fill="#cacaca"/><ellipse cx="398.1" cy="359.0" rx="1.2" ry="1.4" fill="#828282"/><ellipse cx="413.2" cy="366.5" rx="1.8" ry="2.0" fill="#bebebe"/><ellipse cx="394.7" cy="321.7" rx="1.8" ry="1.6" fill="#aaaaaa"/><ellipse cx="406.2" cy="238.1" rx="1.8" ry="1.5" fill="#828282"/><ellipse cx="420.3" cy="250.1" rx="2.0" ry="1.8" fill="#969696"/><ellipse cx="419.3" cy="366.1" rx="1.6" ry="1.4" fill="#8e8e8e"/><ellipse cx="423.0" cy="336.0" rx="1.4" ry="1.8" fill="#cacaca"/><ellipse cx="396.5" cy="242.3" rx="1.9" ry="1.4" fill="#828282"/><ellipse cx="409.2" cy="273.0" rx="2.0" ry="1.7" fill="#9a9a9a"/><ellipse cx="388.4" cy="283.2" rx="1.8" ry="1.3" fill="#9e9e9e"/><ellipse cx="407.0" cy="271.7" rx="1.7" ry="1.6" fill="#969696"/><ellipse cx="399.4" cy="292.5" rx="1.7" ry="1.4" fill="#828282"/><ellipse cx="410.8" cy="283.5" rx="1.4" ry="1.8" fill="#828282"/><ellipse cx="396.4" cy="285.9" rx="1.7" ry="1.8" fill="#dadada"/><ellipse cx="401.0" cy="337.3" rx="1.9" ry="1.7" fill="#8e8e8e"/><ellipse cx="424.3" cy="298.9" rx="1.5" ry="1.5" fill="#969696"/><ellipse cx="400.5" cy="335.1" rx="1.5" ry="1.9" fill="#a6a6a6"/><ellipse cx="411.1" cy="235.8" rx="1.4" ry="1.4" fill="#969696"/><ellipse cx="422.0" cy="240.3" rx="1.6" ry="1.7" fill="#aaaaaa"/><ellipse cx="419.7" cy="326.6" rx="1.5" ry="1.5" fill="#9e9e9e"/><ellipse cx="402.1" cy="250.0" rx="2.0" ry="1.3" fill="#a6a6a6"/><ellipse cx="401.4" cy="303.8" rx="1.8" ry="1.5" fill="#828282"/><ellipse cx="411.4" cy="239.8" rx="1.6" ry="1.6" fill="#dadada"/><ellipse cx="405.9" cy="363.9" rx="1.4" ry="1.5" fill="#a6a6a6"/><ellipse cx="422.9" cy="329.2" rx="1.6" ry="1.5" fill="#a6a6a6"/><ellipse cx="405.6" cy="265.1" rx="1.6" ry="1.8" fill="#aaaaaa"/><ellipse cx="424.3" cy="353.2" rx="1.8" ry="1.5" fill="#8e8e8e"/><ellipse cx="423.2" cy="307.3" rx="1.4" ry="1.4" fill="#828282"/><ellipse cx="391.4" cy="320.5" rx="2.0" ry="1.3" fill="#828282"/><ellipse cx="395.4" cy="269.2" rx="1.5" ry="1.7" fill="#aaaaaa"/><ellipse cx="396.8" cy="290.5" rx="1.6" ry="1.7" fill="#a6a6a6"/><ellipse cx="411.9" cy="262.8" rx="1.5" ry="1.3" fill="#9e9e9e"/><ellipse cx="420.6" cy="247.4" rx="1.8" ry="1.7" fill="#969696"/><ellipse cx="418.5" cy="271.2" rx="1.8" ry="1.7" fill="#a6a6a6"/><ellipse cx="402.9" cy="270.2" rx="1.7" ry="1.8" fill="#9e9e9e"/><ellipse cx="403.9" cy="356.6" rx="1.8" ry="1.7" fill="#9e9e9e"/><ellipse cx="398.0" cy="331.6" rx="1.4" ry="1.8" fill="#9a9a9a"/><ellipse cx="416.8" cy="266.4" rx="1.4" ry="1.8" fill="#9e9e9e"/><ellipse cx="386.3" cy="306.4" rx="1.2" ry="1.4" fill="#828282"/><ellipse cx="409.2" cy="358.8" rx="1.7" ry="1.4" fill="#dadada"/><ellipse cx="423.2" cy="275.2" rx="1.4" ry="1.4" fill="#bebebe"/><ellipse cx="401.0" cy="286.1" rx="1.4" ry="1.4" fill="#9a9a9a"/><ellipse cx="410.9" cy="347.9" rx="1.4" ry="1.7" fill="#dadada"/><ellipse cx="395.8" cy="271.1" rx="1.6" ry="1.8" fill="#dadada"/><ellipse cx="404.2" cy="297.4" rx="1.7" ry="1.3" fill="#9a9a9a"/><ellipse cx="414.3" cy="286.5" rx="1.4" ry="1.5" fill="#8e8e8e"/><ellipse cx="410.4" cy="278.0" rx="1.4" ry="1.3" fill="#a6a6a6"/><ellipse cx="425.4" cy="308.6" rx="1.6" ry="1.8" fill="#8e8e8e"/><ellipse cx="418.3" cy="348.8" rx="1.8" ry="1.3" fill="#b2b2b2"/><ellipse cx="410.8" cy="311.3" rx="1.7" ry="1.4" fill="#bebebe"/><ellipse cx="398.1" cy="257.4" rx="1.4" ry="1.6" fill="#cacaca"/><ellipse cx="413.2" cy="297.3" rx="1.3" ry="1.5" fill="#8e8e8e"/><ellipse cx="424.6" cy="322.8" rx="1.4" ry="1.8" fill="#8e8e8e"/><ellipse cx="421.0" cy="253.2" rx="1.5" ry="1.6" fill="#b2b2b2"/><ellipse cx="418.5" cy="272.6" rx="1.6" ry="1.5" fill="#a6a6a6"/><ellipse cx="423.7" cy="360.6" rx="1.8" ry="1.7" fill="#9a9a9a"/><ellipse cx="421.1" cy="335.7" rx="1.3" ry="1.5" fill="#bebebe"/><ellipse cx="414.3" cy="338.3" rx="1.3" ry="1.8" fill="#aaaaaa"/><ellipse cx="430.5" cy="300.7" rx="2.0" ry="1.2" fill="#aaaaaa"/><ellipse cx="414.7" cy="358.5" rx="1.6" ry="1.7" fill="#bebebe"/><ellipse cx="425.4" cy="245.7" rx="1.5" ry="1.6" fill="#bebebe"/><ellipse cx="409.6" cy="297.6" rx="1.6" ry="1.7" fill="#969696"/><ellipse cx="406.3" cy="369.0" rx="1.7" ry="1.7" fill="#9e9e9e"/><ellipse cx="414.3" cy="265.9" rx="1.7" ry="1.7" fill="#828282"/><ellipse cx="416.5" cy="317.7" rx="1.7" ry="2.0" fill="#aaaaaa"/><ellipse cx="403.0" cy="258.6" rx="1.8" ry="1.6" fill="#dadada"/><ellipse cx="415.3" cy="249.9" rx="1.7" ry="1.5" fill="#cacaca"/><ellipse cx="426.3" cy="255.4" rx="1.4" ry="1.6" fill="#cacaca"/><ellipse cx="401.9" cy="357.9" rx="1.9" ry="1.4" fill="#dadada"/><ellipse cx="405.7" cy="371.4" rx="1.2" ry="1.8" fill="#969696"/><ellipse cx="405.5" cy="323.0" rx="1.4" ry="1.5" fill="#b2b2b2"/><ellipse cx="412.1" cy="249.2" rx="1.5" ry="1.6" fill="#9a9a9a"/><ellipse cx="415.4" cy="348.0" rx="1.8" ry="1.7" fill="#b2b2b2"/><ellipse cx="396.6" cy="320.3" rx="1.5" ry="1.7" fill="#828282"/><ellipse cx="403.2" cy="260.2" rx="1.3" ry="1.8" fill="#9a9a9a"/><ellipse cx="397.1" cy="305.4" rx="1.6" ry="1.4" fill="#dadada"/><ellipse cx="410.3" cy="313.7" rx="1.7" ry="1.8" fill="#a6a6a6"/><ellipse cx="391.8" cy="279.2" rx="1.3" ry="2.0" fill="#9a9a9a"/><ellipse cx="396.8" cy="369.2" rx="2.0" ry="1.5" fill="#828282"/><ellipse cx="413.5" cy="283.6" rx="1.8" ry="1.6" fill="#bebebe"/><ellipse cx="387.9" cy="296.7" rx="1.7" ry="1.8" fill="#aaaaaa"/><ellipse cx="393.5" cy="242.9" rx="1.8" ry="1.7" fill="#cacaca"/><ellipse cx="421.1" cy="354.2" rx="1.8" ry="1.4" fill="#bebebe"/><ellipse cx="418.6" cy="329.9" rx="1.5" ry="1.5" fill="#dadada"/><ellipse cx="426.3" cy="293.8" rx="1.5" ry="1.5" fill="#8e8e8e"/><ellipse cx="390.9" cy="288.1" rx="2.0" ry="1.5" fill="#cacaca"/><ellipse cx="423.9" cy="293.1" rx="1.6" ry="1.7" fill="#8e8e8e"/><ellipse cx="408.8" cy="258.1" rx="1.8" ry="1.4" fill="#a6a6a6"/><ellipse cx="412.9" cy="329.8" rx="1.8" ry="1.7" fill="#b2b2b2"/><ellipse cx="415.3" cy="299.0" rx="1.8" ry="1.9" fill="#9a9a9a"/><ellipse cx="418.7" cy="352.8" rx="1.3" ry="1.8" fill="#aaaaaa"/><ellipse cx="396.4" cy="248.6" rx="1.5" ry="1.5" fill="#8e8e8e"/><ellipse cx="408.2" cy="341.4" rx="1.6" ry="1.7" fill="#a6a6a6"/><ellipse cx="404.3" cy="348.9" rx="1.7" ry="1.6" fill="#b2b2b2"/><ellipse cx="393.6" cy="245.3" rx="1.8" ry="1.2" fill="#9a9a9a"/><ellipse cx="416.9" cy="257.4" rx="2.0" ry="1.6" fill="#aaaaaa"/><ellipse cx="403.7" cy="321.3" rx="1.3" ry="2.0" fill="#a6a6a6"/><ellipse cx="423.8" cy="251.5" rx="1.5" ry="1.9" fill="#828282"/><ellipse cx="415.5" cy="326.6" rx="1.8" ry="2.0" fill="#cacaca"/><ellipse cx="414.0" cy="343.2" rx="1.5" ry="1.3" fill="#8e8e8e"/><ellipse cx="418.6" cy="315.2" rx="1.4" ry="1.5" fill="#dadada"/><ellipse cx="396.2" cy="253.4" rx="1.4" ry="1.5" fill="#cacaca"/><ellipse cx="416.8" cy="247.4" rx="1.3" ry="1.9" fill="#cacaca"/><ellipse cx="421.9" cy="306.3" rx="1.6" ry="1.4" fill="#8e8e8e"/><ellipse cx="414.3" cy="237.7" rx="1.8" ry="1.6" fill="#8e8e8e"/><ellipse cx="408.3" cy="344.8" rx="1.2" ry="1.5" fill="#8e8e8e"/><ellipse cx="396.7" cy="327.6" rx="1.9" ry="1.8" fill="#8e8e8e"/><ellipse cx="401.7" cy="350.5" rx="1.9" ry="1.2" fill="#969696"/><ellipse cx="408.8" cy="266.1" rx="1.7" ry="1.5" fill="#bebebe"/><ellipse cx="406.3" cy="302.9" rx="1.4" ry="1.4" fill="#cacaca"/><ellipse cx="395.8" cy="350.3" rx="1.2" ry="1.4" fill="#9e9e9e"/><ellipse cx="406.3" cy="255.2" rx="1.2" ry="1.7" fill="#bebebe"/><ellipse cx="425.5" cy="304.0" rx="1.4" ry="1.7" fill="#dadada"/><ellipse cx="398.2" cy="345.6" rx="1.4" ry="2.0" fill="#a6a6a6"/><ellipse cx="424.7" cy="246.0" rx="1.5" ry="1.3" fill="#aaaaaa"/><ellipse cx="416.7" cy="253.6" rx="1.9" ry="1.6" fill="#8e8e8e"/><ellipse cx="402.9" cy="328.2" rx="1.4" ry="2.0" fill="#8e8e8e"/><ellipse cx="392.9" cy="336.7" rx="1.4" ry="1.4" fill="#aaaaaa"/><ellipse cx="392.8" cy="237.3" rx="1.3" ry="1.9" fill="#cacaca"/><ellipse cx="418.5" cy="327.4" rx="1.5" ry="1.9" fill="#a6a6a6"/><ellipse cx="399.6" cy="253.7" rx="1.5" ry="1.2" fill="#b2b2b2"/><ellipse cx="389.6" cy="304.9" rx="1.5" ry="1.7" fill="#bebebe"/><ellipse cx="396.6" cy="239.9" rx="1.7" ry="1.2" fill="#8e8e8e"/><ellipse cx="408.2" cy="342.5" rx="1.8" ry="1.7" fill="#cacaca"/><ellipse cx="411.7" cy="323.3" rx="1.7" ry="1.4" fill="#cacaca"/><ellipse cx="420.3" cy="272.6" rx="1.6" ry="1.5" fill="#dadada"/><ellipse cx="396.8" cy="276.1" rx="1.4" ry="1.3" fill="#b2b2b2"/><ellipse cx="397.2" cy="238.9" rx="1.6" ry="1.6" fill="#dadada"/><ellipse cx="410.6" cy="296.3" rx="1.3" ry="2.0" fill="#9a9a9a"/><ellipse cx="392.2" cy="336.6" rx="1.5" ry="1.7" fill="#dadada"/><ellipse cx="404.4" cy="251.7" rx="1.4" ry="1.5" fill="#b2b2b2"/><ellipse cx="407.9" cy="369.8" rx="1.8" ry="2.0" fill="#8e8e8e"/><ellipse cx="411.9" cy="353.3" rx="1.6" ry="1.8" fill="#9e9e9e"/><ellipse cx="426.7" cy="295.4" rx="1.6" ry="1.6" fill="#b2b2b2"/><ellipse cx="397.9" cy="276.4" rx="1.5" ry="1.4" fill="#9e9e9e"/><ellipse cx="401.3" cy="289.9" rx="1.7" ry="1.7" fill="#969696"/><ellipse cx="411.1" cy="334.8" rx="1.5" ry="1.2" fill="#aaaaaa"/><ellipse cx="418.4" cy="317.4" rx="1.7" ry="1.5" fill="#cacaca"/><ellipse cx="405.6" cy="343.4" rx="1.5" ry="1.7" fill="#dadada"/><ellipse cx="394.5" cy="303.4" rx="1.8" ry="1.4" fill="#bebebe"/><ellipse cx="400.5" cy="314.8" rx="1.6" ry="1.3" fill="#969696"/><ellipse cx="398.3" cy="270.4" rx="1.4" ry="1.7" fill="#9a9a9a"/><ellipse cx="391.5" cy="316.1" rx="1.4" ry="1.2" fill="#aaaaaa"/><ellipse cx="423.4" cy="263.9" rx="1.6" ry="1.4" fill="#cacaca"/><ellipse cx="394.5" cy="262.7" rx="1.7" ry="1.7" fill="#828282"/><ellipse cx="396.7" cy="313.0" rx="1.6" ry="1.6" fill="#9a9a9a"/><ellipse cx="392.0" cy="351.3" rx="1.5" ry="1.7" fill="#9e9e9e"/><ellipse cx="407.8" cy="328.4" rx="1.8" ry="2.0" fill="#cacaca"/><ellipse cx="432.2" cy="298.7" rx="1.6" ry="1.3" fill="#bebebe"/><ellipse cx="408.4" cy="251.3" rx="1.4" ry="1.2" fill="#aaaaaa"/><ellipse cx="418.2" cy="238.0" rx="1.7" ry="1.8" fill="#bebebe"/><ellipse cx="418.3" cy="249.8" rx="1.4" ry="1.5" fill="#dadada"/><ellipse cx="425.6" cy="237.6" rx="1.8" ry="1.8" fill="#a6a6a6"/><ellipse cx="422.2" cy="351.0" rx="1.7" ry="2.0" fill="#aaaaaa"/><ellipse cx="400.6" cy="277.5" rx="1.8" ry="1.7" fill="#8e8e8e"/><ellipse cx="416.0" cy="288.9" rx="1.6" ry="1.8" fill="#969696"/><ellipse cx="405.5" cy="298.8" rx="1.9" ry="1.3" fill="#b2b2b2"/><ellipse cx="403.0" cy="239.9" rx="1.7" ry="1.8" fill="#b2b2b2"/><ellipse cx="414.5" cy="317.4" rx="2.0" ry="1.4" fill="#9a9a9a"/><ellipse cx="421.4" cy="343.1" rx="1.5" ry="1.5" fill="#8e8e8e"/><ellipse cx="409.4" cy="268.1" rx="1.5" ry="1.9" fill="#9e9e9e"/><ellipse cx="398.4" cy="289.0" rx="1.3" ry="1.6" fill="#bebebe"/><ellipse cx="423.6" cy="235.0" rx="1.4" ry="1.7" fill="#dadada"/><ellipse cx="408.7" cy="243.5" rx="1.9" ry="1.3" fill="#8e8e8e"/><ellipse cx="399.7" cy="351.0" rx="1.3" ry="1.8" fill="#8e8e8e"/><ellipse cx="386.5" cy="285.1" rx="1.7" ry="1.5" fill="#dadada"/><ellipse cx="411.3" cy="281.1" rx="1.4" ry="1.8" fill="#9e9e9e"/><ellipse cx="401.8" cy="256.5" rx="1.6" ry="1.2" fill="#8e8e8e"/><ellipse cx="393.0" cy="281.6" rx="1.8" ry="1.3" fill="#b2b2b2"/><ellipse cx="411.2" cy="245.3" rx="1.3" ry="1.7" fill="#9e9e9e"/><ellipse cx="429.3" cy="296.4" rx="1.5" ry="1.7" fill="#a6a6a6"/><ellipse cx="408.2" cy="333.7" rx="1.5" ry="1.5" fill="#8e8e8e"/><ellipse cx="424.3" cy="268.0" rx="1.6" ry="1.9" fill="#cacaca"/><ellipse cx="398.7" cy="364.8" rx="1.8" ry="1.7" fill="#bebebe"/><ellipse cx="396.4" cy="345.4" rx="1.3" ry="1.4" fill="#9e9e9e"/><ellipse cx="421.4" cy="278.8" rx="1.5" ry="1.3" fill="#bebebe"/><ellipse cx="412.8" cy="250.2" rx="1.4" ry="1.6" fill="#bebebe"/><ellipse cx="398.8" cy="269.1" rx="1.5" ry="1.5" fill="#bebebe"/><ellipse cx="429.7" cy="291.5" rx="1.6" ry="1.6" fill="#dadada"/><ellipse cx="421.8" cy="300.1" rx="1.4" ry="1.9" fill="#828282"/><ellipse cx="391.7" cy="291.4" rx="1.6" ry="1.9" fill="#9e9e9e"/><ellipse cx="417.9" cy="258.4" rx="1.6" ry="2.0" fill="#cacaca"/><ellipse cx="391.9" cy="270.1" rx="1.6" ry="1.4" fill="#bebebe"/><ellipse cx="423.7" cy="255.7" rx="1.4" ry="2.0" fill="#969696"/><ellipse cx="424.7" cy="338.9" rx="1.6" ry="1.8" fill="#8e8e8e"/><ellipse cx="417.8" cy="292.4" rx="1.5" ry="1.7" fill="#828282"/><ellipse cx="396.0" cy="316.1" rx="1.6" ry="1.5" fill="#969696"/><ellipse cx="393.6" cy="361.7" rx="1.5" ry="1.7" fill="#bebebe"/><ellipse cx="426.1" cy="291.2" rx="1.9" ry="1.7" fill="#a6a6a6"/><ellipse cx="390.9" cy="286.1" rx="1.7" ry="1.7" fill="#9e9e9e"/><ellipse cx="415.4" cy="308.6" rx="1.9" ry="1.6" fill="#8e8e8e"/><ellipse cx="396.3" cy="338.9" rx="1.6" ry="1.8" fill="#b2b2b2"/><ellipse cx="417.9" cy="260.3" rx="1.5" ry="1.7" fill="#dadada"/><ellipse cx="414.6" cy="258.1" rx="1.6" ry="1.3" fill="#bebebe"/><ellipse cx="392.9" cy="317.5" rx="1.4" ry="2.0" fill="#a6a6a6"/><ellipse cx="404.0" cy="336.6" rx="1.5" ry="1.8" fill="#969696"/><ellipse cx="408.2" cy="330.6" rx="1.5" ry="1.5" fill="#9a9a9a"/><ellipse cx="402.8" cy="286.3" rx="1.5" ry="1.5" fill="#cacaca"/><ellipse cx="396.2" cy="354.9" rx="1.7" ry="1.2" fill="#9a9a9a"/><ellipse cx="396.1" cy="310.6" rx="1.9" ry="1.7" fill="#969696"/><ellipse cx="424.0" cy="282.6" rx="1.4" ry="1.5" fill="#dadada"/><ellipse cx="408.9" cy="369.0" rx="1.5" ry="1.7" fill="#969696"/><ellipse cx="412.9" cy="256.5" rx="1.9" ry="1.2" fill="#9a9a9a"/><ellipse cx="394.1" cy="236.5" rx="1.8" ry="1.9" fill="#bebebe"/><ellipse cx="404.3" cy="292.7" rx="1.6" ry="1.4" fill="#b2b2b2"/><ellipse cx="409.3" cy="308.9" rx="2.0" ry="1.3" fill="#8e8e8e"/><ellipse cx="394.5" cy="248.2" rx="1.6" ry="1.5" fill="#bebebe"/><ellipse cx="404.1" cy="371.3" rx="1.6" ry="1.5" fill="#aaaaaa"/><ellipse cx="394.5" cy="273.7" rx="1.5" ry="1.8" fill="#8e8e8e"/><ellipse cx="403.9" cy="354.0" rx="1.7" ry="1.4" fill="#9e9e9e"/><ellipse cx="393.0" cy="257.9" rx="1.9" ry="1.4" fill="#a6a6a6"/><ellipse cx="401.8" cy="308.8" rx="1.9" ry="1.5" fill="#aaaaaa"/><ellipse cx="391.3" cy="353.0" rx="1.3" ry="1.9" fill="#dadada"/><ellipse cx="423.1" cy="313.2" rx="1.7" ry="1.6" fill="#dadada"/><ellipse cx="421.7" cy="314.9" rx="1.8" ry="1.9" fill="#bebebe"/><ellipse cx="415.4" cy="351.2" rx="1.2" ry="1.4" fill="#8e8e8e"/><ellipse cx="392.0" cy="264.8" rx="1.4" ry="2.0" fill="#969696"/><ellipse cx="400.6" cy="253.1" rx="2.0" ry="1.2" fill="#8e8e8e"/><ellipse cx="410.5" cy="372.5" rx="1.8" ry="1.5" fill="#dadada"/><ellipse cx="411.3" cy="243.2" rx="1.7" ry="2.0" fill="#9a9a9a"/><ellipse cx="421.0" cy="349.0" rx="1.4" ry="1.5" fill="#b2b2b2"/><ellipse cx="398.2" cy="347.7" rx="1.5" ry="1.8" fill="#9a9a9a"/><ellipse cx="390.4" cy="276.0" rx="1.5" ry="1.8" fill="#b2b2b2"/><ellipse cx="411.8" cy="303.7" rx="2.0" ry="1.6" fill="#b2b2b2"/><ellipse cx="404.0" cy="363.8" rx="1.6" ry="1.9" fill="#8e8e8e"/><ellipse cx="408.2" cy="323.6" rx="1.5" ry="1.6" fill="#bebebe"/><ellipse cx="407.2" cy="356.0" rx="1.4" ry="1.3" fill="#9e9e9e"/><ellipse cx="422.2" cy="321.6" rx="1.3" ry="1.5" fill="#828282"/><ellipse cx="411.8" cy="305.2" rx="1.6" ry="1.5" fill="#8e8e8e"/><ellipse cx="394.1" cy="283.9" rx="1.6" ry="2.0" fill="#969696"/><ellipse cx="423.4" cy="333.3" rx="1.8" ry="1.7" fill="#969696"/><ellipse cx="406.5" cy="279.0" rx="1.4" ry="1.6" fill="#cacaca"/><ellipse cx="401.7" cy="260.4" rx="1.6" ry="2.0" fill="#b2b2b2"/><ellipse cx="385.7" cy="290.7" rx="2.0" ry="1.7" fill="#cacaca"/><ellipse cx="424.5" cy="247.5" rx="2.0" ry="1.2" fill="#969696"/><ellipse cx="425.8" cy="260.4" rx="1.7" ry="1.4" fill="#aaaaaa"/><ellipse cx="408.6" cy="306.4" rx="1.7" ry="1.5" fill="#a6a6a6"/><ellipse cx="401.7" cy="245.6" rx="1.8" ry="1.6" fill="#9e9e9e"/><ellipse cx="391.3" cy="318.7" rx="1.3" ry="1.7" fill="#dadada"/><ellipse cx="389.6" cy="280.4" rx="1.8" ry="2.0" fill="#dadada"/><ellipse cx="419.0" cy="344.9" rx="1.4" ry="1.3" fill="#aaaaaa"/><ellipse cx="429.2" cy="305.5" rx="1.8" ry="1.3" fill="#9a9a9a"/><ellipse cx="407.8" cy="280.8" rx="1.5" ry="1.6" fill="#cacaca"/><ellipse cx="410.8" cy="355.5" rx="2.0" ry="1.4" fill="#cacaca"/><ellipse cx="416.8" cy="237.7" rx="1.6" ry="1.5" fill="#969696"/><ellipse cx="394.3" cy="293.2" rx="1.8" ry="1.4" fill="#8e8e8e"/><ellipse cx="416.2" cy="276.0" rx="2.0" ry="1.4" fill="#9e9e9e"/><ellipse cx="415.5" cy="256.6" rx="1.7" ry="1.6" fill="#cacaca"/><ellipse cx="412.0" cy="370.6" rx="1.6" ry="1.5" fill="#aaaaaa"/><ellipse cx="404.6" cy="296.1" rx="1.2" ry="2.0" fill="#dadada"/><ellipse cx="395.8" cy="323.1" rx="1.5" ry="1.8" fill="#828282"/><ellipse cx="393.6" cy="365.8" rx="1.3" ry="2.0" fill="#9e9e9e"/><ellipse cx="415.7" cy="311.6" rx="1.7" ry="2.0" fill="#bebebe"/><ellipse cx="420.9" cy="364.1" rx="2.0" ry="1.5" fill="#dadada"/><ellipse cx="396.0" cy="296.1" rx="1.5" ry="1.3" fill="#dadada"/><ellipse cx="397.0" cy="303.6" rx="2.0" ry="1.7" fill="#bebebe"/><ellipse cx="396.3" cy="317.9" rx="1.6" ry="1.6" fill="#aaaaaa"/><ellipse cx="426.5" cy="280.6" rx="1.5" ry="1.7" fill="#dadada"/><ellipse cx="397.1" cy="278.8" rx="1.5" ry="1.5" fill="#aaaaaa"/><ellipse cx="422.9" cy="309.9" rx="1.7" ry="1.7" fill="#b2b2b2"/><ellipse cx="401.8" cy="296.5" rx="1.5" ry="1.9" fill="#cacaca"/><ellipse cx="423.0" cy="331.5" rx="1.5" ry="1.5" fill="#bebebe"/><ellipse cx="405.3" cy="284.0" rx="2.0" ry="1.7" fill="#a6a6a6"/><ellipse cx="396.2" cy="256.0" rx="2.0" ry="1.4" fill="#9a9a9a"/><ellipse cx="414.2" cy="356.1" rx="1.2" ry="1.5" fill="#9a9a9a"/><ellipse cx="405.8" cy="300.6" rx="1.3" ry="2.0" fill="#9e9e9e"/><ellipse cx="406.6" cy="315.7" rx="1.5" ry="1.5" fill="#b2b2b2"/><ellipse cx="428.8" cy="294.1" rx="1.5" ry="1.8" fill="#aaaaaa"/><ellipse cx="422.8" cy="364.1" rx="1.6" ry="1.4" fill="#aaaaaa"/><ellipse cx="419.6" cy="341.3" rx="1.6" ry="1.4" fill="#aaaaaa"/><ellipse cx="414.3" cy="304.8" rx="1.5" ry="1.7" fill="#cacaca"/><ellipse cx="418.3" cy="264.1" rx="1.5" ry="1.7" fill="#8e8e8e"/><ellipse cx="409.2" cy="318.1" rx="1.7" ry="1.2" fill="#969696"/><ellipse cx="391.4" cy="307.7" rx="1.7" ry="1.7" fill="#b2b2b2"/><ellipse cx="430.6" cy="288.8" rx="1.7" ry="1.4" fill="#8e8e8e"/><ellipse cx="388.5" cy="298.4" rx="1.6" ry="1.7" fill="#9a9a9a"/><ellipse cx="419.0" cy="361.1" rx="1.4" ry="1.7" fill="#9e9e9e"/><ellipse cx="406.8" cy="296.1" rx="1.8" ry="1.6" fill="#9a9a9a"/><ellipse cx="409.6" cy="320.3" rx="1.5" ry="1.2" fill="#9a9a9a"/><ellipse cx="395.7" cy="292.6" rx="1.5" ry="1.4" fill="#a6a6a6"/><ellipse cx="413.9" cy="261.6" rx="1.3" ry="1.6" fill="#bebebe"/><ellipse cx="401.2" cy="333.7" rx="1.7" ry="1.3" fill="#969696"/><ellipse cx="423.7" cy="243.0" rx="1.9" ry="1.3" fill="#a6a6a6"/><ellipse cx="408.5" cy="310.7" rx="1.5" ry="1.7" fill="#bebebe"/><ellipse cx="415.6" cy="331.6" rx="1.7" ry="1.4" fill="#828282"/><ellipse cx="391.5" cy="346.2" rx="1.6" ry="1.7" fill="#bebebe"/><ellipse cx="388.9" cy="309.9" rx="1.4" ry="1.8" fill="#9e9e9e"/><ellipse cx="425.5" cy="318.6" rx="2.0" ry="1.8" fill="#aaaaaa"/><ellipse cx="405.7" cy="348.8" rx="1.6" ry="1.9" fill="#b2b2b2"/><ellipse cx="422.0" cy="258.7" rx="1.7" ry="1.9" fill="#969696"/><ellipse cx="403.1" cy="333.0" rx="1.3" ry="1.5" fill="#969696"/><ellipse cx="420.4" cy="328.0" rx="1.7" ry="1.7" fill="#969696"/><ellipse cx="415.4" cy="302.5" rx="1.5" ry="1.8" fill="#dadada"/><ellipse cx="400.9" cy="325.5" rx="1.5" ry="1.4" fill="#bebebe"/><ellipse cx="393.3" cy="357.9" rx="1.9" ry="1.2" fill="#b2b2b2"/><ellipse cx="398.5" cy="318.1" rx="1.7" ry="1.2" fill="#9e9e9e"/><ellipse cx="392.8" cy="307.5" rx="1.9" ry="1.7" fill="#dadada"/><ellipse cx="398.6" cy="353.7" rx="1.8" ry="1.4" fill="#aaaaaa"/><ellipse cx="397.9" cy="237.7" rx="1.3" ry="1.7" fill="#9a9a9a"/><ellipse cx="399.0" cy="297.9" rx="1.6" ry="1.7" fill="#828282"/><ellipse cx="415.6" cy="270.1" rx="1.7" ry="1.4" fill="#969696"/><ellipse cx="387.2" cy="310.8" rx="1.8" ry="1.5" fill="#bebebe"/><ellipse cx="398.6" cy="243.0" rx="1.8" ry="1.7" fill="#cacaca"/><ellipse cx="430.3" cy="311.5" rx="1.8" ry="1.5" fill="#b2b2b2"/><ellipse cx="426.3" cy="285.6" rx="1.3" ry="1.7" fill="#b2b2b2"/><ellipse cx="406.0" cy="261.5" rx="1.8" ry="1.5" fill="#9e9e9e"/><ellipse cx="409.7" cy="289.0" rx="1.8" ry="1.7" fill="#cacaca"/><ellipse cx="423.4" cy="258.3" rx="1.5" ry="1.5" fill="#b2b2b2"/><ellipse cx="386.6" cy="301.4" rx="1.3" ry="1.7" fill="#aaaaaa"/><ellipse cx="421.1" cy="302.4" rx="1.8" ry="1.9" fill="#cacaca"/><ellipse cx="416.5" cy="260.3" rx="1.6" ry="1.5" fill="#969696"/><ellipse cx="431.3" cy="290.2" rx="1.2" ry="1.6" fill="#b2b2b2"/><ellipse cx="400.8" cy="360.0" rx="1.6" ry="1.3" fill="#969696"/><ellipse cx="392.9" cy="271.3" rx="1.6" ry="2.0" fill="#bebebe"/><ellipse cx="409.2" cy="315.0" rx="1.9" ry="1.8" fill="#828282"/><ellipse cx="390.7" cy="295.8" rx="1.9" ry="1.6" fill="#bebebe"/><ellipse cx="401.0" cy="323.2" rx="1.5" ry="1.8" fill="#dadada"/><ellipse cx="384.1" cy="298.6" rx="1.3" ry="1.7" fill="#dadada"/><ellipse cx="421.7" cy="238.1" rx="1.6" ry="1.4" fill="#9e9e9e"/><ellipse cx="420.8" cy="356.4" rx="1.8" ry="1.4" fill="#bebebe"/><ellipse cx="415.3" cy="291.3" rx="1.6" ry="1.9" fill="#969696"/><ellipse cx="421.2" cy="265.4" rx="1.8" ry="1.6" fill="#b2b2b2"/><ellipse cx="398.5" cy="273.2" rx="1.8" ry="1.8" fill="#8e8e8e"/><ellipse cx="393.2" cy="306.0" rx="1.5" ry="1.8" fill="#969696"/><ellipse cx="403.2" cy="237.4" rx="1.8" ry="2.0" fill="#bebebe"/><ellipse cx="429.3" cy="289.0" rx="1.9" ry="1.7" fill="#8e8e8e"/><ellipse cx="394.7" cy="330.8" rx="1.4" ry="1.8" fill="#cacaca"/><ellipse cx="424.6" cy="306.3" rx="1.6" ry="1.3" fill="#9e9e9e"/><ellipse cx="401.1" cy="249.0" rx="1.4" ry="2.0" fill="#9a9a9a"/><ellipse cx="393.1" cy="347.3" rx="1.6" ry="1.8" fill="#a6a6a6"/><ellipse cx="417.8" cy="363.5" rx="1.4" ry="1.4" fill="#969696"/><ellipse cx="414.5" cy="242.9" rx="1.8" ry="2.0" fill="#8e8e8e"/><ellipse cx="414.1" cy="264.1" rx="1.9" ry="1.3" fill="#aaaaaa"/><ellipse cx="398.8" cy="304.9" rx="1.5" ry="1.5" fill="#9a9a9a"/><ellipse cx="391.7" cy="355.6" rx="1.9" ry="1.5" fill="#9a9a9a"/><ellipse cx="412.9" cy="360.8" rx="1.4" ry="1.3" fill="#aaaaaa"/><ellipse cx="398.4" cy="315.2" rx="1.4" ry="1.7" fill="#9e9e9e"/><ellipse cx="385.5" cy="303.3" rx="1.3" ry="1.8" fill="#dadada"/><ellipse cx="408.1" cy="301.2" rx="1.8" ry="1.4" fill="#828282"/><ellipse cx="391.5" cy="337.5" rx="1.8" ry="1.5" fill="#9e9e9e"/><ellipse cx="416.2" cy="305.2" rx="1.5" ry="1.6" fill="#a6a6a6"/><ellipse cx="422.9" cy="285.7" rx="1.6" ry="1.8" fill="#aaaaaa"/><ellipse cx="401.6" cy="267.7" rx="1.5" ry="1.4" fill="#969696"/><ellipse cx="421.4" cy="345.3" rx="1.5" ry="1.6" fill="#969696"/><ellipse cx="403.0" cy="255.9" rx="1.7" ry="1.4" fill="#a6a6a6"/><ellipse cx="404.3" cy="272.6" rx="1.7" ry="1.5" fill="#9a9a9a"/><ellipse cx="398.2" cy="265.2" rx="1.5" ry="1.5" fill="#aaaaaa"/><ellipse cx="416.3" cy="352.4" rx="1.4" ry="1.8" fill="#dadada"/><ellipse cx="398.5" cy="260.0" rx="2.0" ry="1.5" fill="#9e9e9e"/><ellipse cx="405.5" cy="285.2" rx="1.7" ry="1.7" fill="#b2b2b2"/><ellipse cx="397.1" cy="363.7" rx="1.5" ry="1.6" fill="#a6a6a6"/><ellipse cx="422.2" cy="243.9" rx="1.9" ry="1.4" fill="#bebebe"/><ellipse cx="418.0" cy="368.0" rx="1.5" ry="1.6" fill="#cacaca"/><ellipse cx="413.9" cy="336.0" rx="1.7" ry="1.3" fill="#9a9a9a"/><ellipse cx="399.4" cy="285.1" rx="1.6" ry="1.7" fill="#bebebe"/><ellipse cx="419.5" cy="290.3" rx="1.7" ry="1.7" fill="#969696"/><ellipse cx="429.2" cy="303.9" rx="1.3" ry="1.9" fill="#828282"/><ellipse cx="407.2" cy="293.7" rx="1.4" ry="1.4" fill="#9e9e9e"/><ellipse cx="420.7" cy="310.1" rx="1.7" ry="1.3" fill="#cacaca"/><ellipse cx="420.6" cy="283.9" rx="1.4" ry="1.5" fill="#b2b2b2"/><ellipse cx="425.4" cy="301.6" rx="1.4" ry="1.7" fill="#b2b2b2"/><ellipse cx="406.6" cy="311.6" rx="1.4" ry="2.0" fill="#828282"/><ellipse cx="419.6" cy="277.6" rx="2.0" ry="1.6" fill="#828282"/><ellipse cx="411.3" cy="250.2" rx="1.4" ry="1.8" fill="#9a9a9a"/><ellipse cx="401.4" cy="369.8" rx="1.8" ry="1.6" fill="#a6a6a6"/><ellipse cx="394.2" cy="362.8" rx="1.9" ry="1.7" fill="#9a9a9a"/><ellipse cx="411.4" cy="258.7" rx="1.5" ry="1.2" fill="#8e8e8e"/><ellipse cx="398.1" cy="303.3" rx="1.8" ry="1.5" fill="#8e8e8e"/><ellipse cx="425.3" cy="324.1" rx="1.8" ry="1.6" fill="#9a9a9a"/><ellipse cx="388.2" cy="316.3" rx="1.6" ry="1.4" fill="#828282"/><ellipse cx="404.0" cy="307.4" rx="1.7" ry="1.7" fill="#828282"/><ellipse cx="399.5" cy="235.9" rx="1.6" ry="1.4" fill="#a6a6a6"/><ellipse cx="414.1" cy="345.9" rx="1.6" ry="1.6" fill="#8e8e8e"/><ellipse cx="415.3" cy="283.3" rx="1.7" ry="1.5" fill="#dadada"/><ellipse cx="405.3" cy="350.8" rx="1.9" ry="1.3" fill="#9e9e9e"/><ellipse cx="403.2" cy="350.9" rx="1.4" ry="1.4" fill="#bebebe"/><ellipse cx="400.8" cy="365.8" rx="1.8" ry="1.2" fill="#aaaaaa"/><ellipse cx="415.4" cy="295.1" rx="1.6" ry="1.5" fill="#9e9e9e"/><ellipse cx="412.1" cy="360.1" rx="1.9" ry="1.5" fill="#828282"/><ellipse cx="396.9" cy="272.4" rx="1.5" ry="1.5" fill="#cacaca"/><ellipse cx="394.4" cy="334.2" rx="1.4" ry="1.8" fill="#a6a6a6"/><ellipse cx="407.1" cy="335.3" rx="2.0" ry="1.5" fill="#9a9a9a"/><ellipse cx="425.4" cy="298.8" rx="1.3" ry="1.4" fill="#cacaca"/><ellipse cx="393.8" cy="290.5" rx="1.7" ry="1.8" fill="#dadada"/><ellipse cx="406.3" cy="242.4" rx="1.4" ry="1.8" fill="#aaaaaa"/><ellipse cx="396.3" cy="329.8" rx="1.7" ry="1.5" fill="#9a9a9a"/><ellipse cx="404.3" cy="346.4" rx="1.9" ry="1.6" fill="#9a9a9a"/><ellipse cx="417.1" cy="313.3" rx="1.9" ry="1.3" fill="#9a9a9a"/><ellipse cx="422.9" cy="348.2" rx="1.5" ry="1.3" fill="#9e9e9e"/><ellipse cx="411.0" cy="358.6" rx="1.8" ry="1.8" fill="#b2b2b2"/><ellipse cx="427.9" cy="284.0" rx="1.8" ry="1.8" fill="#828282"/><ellipse cx="393.5" cy="300.4" rx="1.4" ry="1.6" fill="#8e8e8e"/><ellipse cx="405.8" cy="305.3" rx="1.7" ry="1.5" fill="#8e8e8e"/><ellipse cx="415.7" cy="246.3" rx="2.0" ry="1.6" fill="#9e9e9e"/><ellipse cx="400.5" cy="328.9" rx="1.8" ry="2.0" fill="#a6a6a6"/><ellipse cx="411.2" cy="344.9" rx="1.9" ry="1.3" fill="#9a9a9a"/><ellipse cx="430.6" cy="296.5" rx="1.8" ry="1.8" fill="#cacaca"/><ellipse cx="412.2" cy="289.0" rx="1.6" ry="1.6" fill="#cacaca"/><ellipse cx="397.0" cy="265.5" rx="1.4" ry="1.3" fill="#9a9a9a"/><ellipse cx="395.3" cy="342.8" rx="1.4" ry="1.4" fill="#969696"/><ellipse cx="408.1" cy="261.5" rx="1.5" ry="1.5" fill="#a6a6a6"/><ellipse cx="403.9" cy="318.9" rx="1.3" ry="1.6" fill="#bebebe"/><ellipse cx="414.1" cy="362.4" rx="1.9" ry="1.7" fill="#8e8e8e"/><ellipse cx="393.3" cy="352.9" rx="1.4" ry="1.6" fill="#cacaca"/><ellipse cx="420.7" cy="281.4" rx="1.6" ry="1.4" fill="#b2b2b2"/><ellipse cx="414.5" cy="278.5" rx="1.6" ry="1.8" fill="#cacaca"/><ellipse cx="395.5" cy="326.0" rx="1.6" ry="1.6" fill="#cacaca"/><ellipse cx="400.7" cy="305.7" rx="1.4" ry="1.5" fill="#cacaca"/><ellipse cx="398.7" cy="281.4" rx="1.6" ry="1.9" fill="#cacaca"/><ellipse cx="413.7" cy="300.6" rx="1.9" ry="1.4" fill="#a6a6a6"/><ellipse cx="411.5" cy="314.8" rx="1.5" ry="1.4" fill="#9a9a9a"/><ellipse cx="410.5" cy="270.5" rx="1.8" ry="1.6" fill="#8e8e8e"/><ellipse cx="418.7" cy="338.2" rx="1.4" ry="1.4" fill="#8e8e8e"/><ellipse cx="401.7" cy="235.8" rx="2.0" ry="1.5" fill="#828282"/><ellipse cx="433.0" cy="302.5" rx="1.6" ry="1.5" fill="#bebebe"/><ellipse cx="423.1" cy="302.6" rx="1.5" ry="1.3" fill="#aaaaaa"/><ellipse cx="391.3" cy="322.8" rx="1.7" ry="1.5" fill="#bebebe"/><ellipse cx="421.1" cy="276.2" rx="2.0" ry="1.4" fill="#9e9e9e"/><ellipse cx="403.4" cy="304.9" rx="2.0" ry="1.8" fill="#aaaaaa"/><ellipse cx="427.9" cy="307.5" rx="1.2" ry="1.4" fill="#9a9a9a"/><ellipse cx="411.4" cy="285.6" rx="2.0" ry="1.5" fill="#dadada"/><ellipse cx="409.5" cy="289.9" rx="1.7" ry="1.8" fill="#dadada"/><ellipse cx="394.0" cy="298.6" rx="1.7" ry="1.2" fill="#a6a6a6"/><ellipse cx="398.0" cy="322.7" rx="1.9" ry="1.2" fill="#bebebe"/><ellipse cx="409.0" cy="360.8" rx="1.7" ry="1.5" fill="#969696"/><ellipse cx="419.6" cy="265.5" rx="1.6" ry="1.8" fill="#969696"/><ellipse cx="413.9" cy="308.4" rx="1.9" ry="1.4" fill="#dadada"/><ellipse cx="407.2" cy="346.0" rx="1.7" ry="1.6" fill="#bebebe"/></g>
<rect x="143.5" y="176.5" width="1.4" height="24.5" fill="#8a8a8a"/>
<path d="M141.89999999999998,201.0 L146.5,201.0 L144.2,207.3 Z" fill="#8a8a8a"/>
<rect x="277.1" y="183.3" width="1.4" height="23.69999999999999" fill="#8a8a8a"/>
<path d="M275.5,183.3 L280.1,183.3 L277.8,177 Z" fill="#8a8a8a"/>
<rect x="277.0" y="263.8" width="1.2" height="12.399999999999977" fill="#3c3c3c"/>
<path d="M274.90000000000003,276.2 L280.3,276.2 L277.6,283 Z" fill="#3c3c3c"/>
<rect x="285.09999999999997" y="280.59999999999997" width="1.2" height="14.800000000000011" fill="#3c3c3c"/>
<path d="M283.0,280.59999999999997 L288.4,280.59999999999997 L285.7,274.2 Z" fill="#3c3c3c"/>
<path d="M92.5,323.4 L97.6,321.29999999999995 L97.6,325.5 Z" fill="#333"/>
<rect x="99.5" y="322.9" width="10.3" height="1" fill="#bdbdbd"/>
<path d="M160,323.4 L154.9,321.29999999999995 L154.9,325.5 Z" fill="#333"/>
<rect x="143.2" y="322.9" width="10.3" height="1" fill="#bdbdbd"/>
<path d="M92.5,331.4 L97.6,329.29999999999995 L97.6,333.5 Z" fill="#333"/>
<rect x="99.5" y="330.9" width="10.3" height="1" fill="#bdbdbd"/>
<path d="M160,331.4 L154.9,329.29999999999995 L154.9,333.5 Z" fill="#333"/>
<rect x="143.2" y="330.9" width="10.3" height="1" fill="#bdbdbd"/>
<path d="M92.5,339.5 L97.6,337.4 L97.6,341.6 Z" fill="#333"/>
<rect x="99.5" y="339.0" width="10.3" height="1" fill="#bdbdbd"/>
<path d="M160,339.5 L154.9,337.4 L154.9,341.6 Z" fill="#333"/>
<rect x="143.2" y="339.0" width="10.3" height="1" fill="#bdbdbd"/>
<path d="M92.5,347.5 L97.6,345.4 L97.6,349.6 Z" fill="#333"/>
<rect x="99.5" y="347.0" width="10.3" height="1" fill="#bdbdbd"/>
<path d="M160,347.5 L154.9,345.4 L154.9,349.6 Z" fill="#333"/>
<rect x="143.2" y="347.0" width="10.3" height="1" fill="#bdbdbd"/>
<path d="M92.5,355.5 L97.6,353.4 L97.6,357.6 Z" fill="#333"/>
<rect x="99.5" y="355.0" width="10.3" height="1" fill="#bdbdbd"/>
<path d="M160,355.5 L154.9,353.4 L154.9,357.6 Z" fill="#333"/>
<rect x="143.2" y="355.0" width="10.3" height="1" fill="#bdbdbd"/>
<path d="M95.0,249.6 L99.4,249.6 L97.2,254.2 Z" fill="#7a7a7a"/>
<rect x="91.2" y="254.2" width="12" height="0.9" fill="#a0a0a0"/>
<rect x="94.2" y="256.2" width="6" height="0.8" fill="#aaa"/>
<path d="M307.7,250.2 L312.09999999999997,250.2 L309.9,254.79999999999998 Z" fill="#7a7a7a"/>
<rect x="303.9" y="254.79999999999998" width="12" height="0.9" fill="#a0a0a0"/>
<rect x="306.9" y="256.8" width="6" height="0.8" fill="#aaa"/>
<circle cx="125.3" cy="394.8" r="12.5" fill="url(#badge)"/>
<ellipse cx="125.3" cy="394.8" rx="13" ry="3.5" fill="url(#badge)" opacity="0.6"/>
<ellipse cx="125.3" cy="394.8" rx="3.5" ry="14" fill="url(#badge)" opacity="0.6"/>
<text x="125.3" y="397.2" font-size="6.8" font-weight="bold" fill="#ececec" text-anchor="middle">3</text>
<circle cx="255.8" cy="394.9" r="12.5" fill="url(#badge)"/>
<ellipse cx="255.8" cy="394.9" rx="13" ry="3.5" fill="url(#badge)" opacity="0.6"/>
<ellipse cx="255.8" cy="394.9" rx="3.5" ry="14" fill="url(#badge)" opacity="0.6"/>
<text x="255.8" y="397.29999999999995" font-size="6.8" font-weight="bold" fill="#ececec" text-anchor="middle">4</text>
<circle cx="400.2" cy="395.5" r="12.5" fill="url(#badge)"/>
<ellipse cx="400.2" cy="395.5" rx="13" ry="3.5" fill="url(#badge)" opacity="0.6"/>
<ellipse cx="400.2" cy="395.5" rx="3.5" ry="14" fill="url(#badge)" opacity="0.6"/>
<text x="400.2" y="397.9" font-size="6.8" font-weight="bold" fill="#ececec" text-anchor="middle">5</text>
<text x="46.3" y="402.3" font-size="9.4" font-weight="bold" fill="#3a3a3a" textLength="52" lengthAdjust="spacingAndGlyphs">La vía seca</text>
</g>
<g filter="url(#blur3)">
<rect x="471" y="47" width="91.8" height="362.7" fill="#f8f8f8"/>
<rect x="507.3" y="49.2" width="0.9" height="7" fill="#d0d0d0"/>
<rect x="500" y="56" width="14.8" height="15.7" fill="url(#cyl)"/>
<rect x="500" y="56" width="14.8" height="4" fill="#9a9a9a" opacity="0.45"/>
<rect x="500" y="63.6" width="14.8" height="0.7" fill="#aaa"/>
<rect x="503.5" y="64.3" width="9" height="6.6" fill="#f2f2f2"/>
<rect x="504.8" y="64.6" width="1.2" height="6.2" fill="#4a4a4a"/>
<rect x="507.9" y="64.6" width="1.2" height="6.2" fill="#4a4a4a"/>
<rect x="510.4" y="64.6" width="1.2" height="6.2" fill="#4a4a4a"/>
<path d="M502.3,71.6 L513.6,71.6 L516.5,80.5 L498.4,80.5 Z" fill="url(#cyl)"/>
<path d="M495,82 L520,82 L522.2,84.5 L522.2,105 L492.7,105 L492.7,84.5 Z" fill="#989898"/>
<path d="M495.1,80.7 L519.8,80.7 L519.8,104 Q507.5,106 495.1,104 Z" fill="url(#darkv)"/>
<path d="M492.7,104.6 Q507.5,107 522.1,104.6 L522.1,117 L521,122.8 L494,122.8 L492.7,117 Z" fill="url(#cyl)"/>
<path d="M492.7,117 L522.1,117 L521,122.8 L494,122.8 Z" fill="#8a8a8a" opacity="0.3"/>
<rect x="507" y="104.8" width="1" height="14.4" fill="#2a2a2a"/>
<path d="M495.1,104 Q507.5,106.2 519.8,104" stroke="#444" stroke-width="0.7" fill="none"/>
<path d="M491,122.8 L522.8,122.8 L522.8,139.3 L520.3,146.2 L493.8,146.2 L491,139.3 Z" fill="url(#cyl)"/>
<path d="M491,139.3 L522.8,139.3 L520.3,146.2 L493.8,146.2 Z" fill="#888" opacity="0.22"/>
<rect x="491" y="122.5" width="31.8" height="0.8" fill="#9a9a9a"/>
<rect x="491" y="139" width="31.8" height="0.7" fill="#a4a4a4"/>
<rect x="493.8" y="146" width="26.6" height="2.2" fill="url(#cyl2)"/>
<rect x="493.2" y="147.9" width="28.1" height="1.8" fill="#2c2c2c"/>
<path d="M494.4,149.6 L519.8,149.6 L519.8,173 Q516,173 512,176 Q507,179.5 502,177.5 Q497,176 494.4,179 Z" fill="url(#cyl)"/>
<path d="M494.4,191 Q497,188 502,189.5 Q507,191.5 512,188.5 Q516,186 519.8,186.5 L519.8,199.5 L494.4,199.5 Z" fill="url(#cyl)"/>
<rect x="495.5" y="199.3" width="23.2" height="16.5" fill="#a2a2a2"/>
<rect x="494.4" y="196.3" width="25.4" height="3.2" fill="#8a8a8a" opacity="0.35"/>
<rect x="495.5" y="199.3" width="12.3" height="16.5" fill="#cacaca"/>
<rect x="497.6" y="200.9" width="1.8" height="2.9" fill="#3a3a3a"/>
<rect x="501.7" y="200.9" width="1.8" height="2.9" fill="#3a3a3a"/>
<rect x="505.4" y="200.9" width="1.8" height="2.9" fill="#3a3a3a"/>
<rect x="497.6" y="207.6" width="1.8" height="2.9" fill="#3a3a3a"/>
<rect x="501.7" y="207.6" width="1.8" height="2.9" fill="#3a3a3a"/>
<rect x="505.4" y="207.6" width="1.8" height="2.9" fill="#3a3a3a"/>
<rect x="495.5" y="205" width="23.2" height="0.9" fill="#7a7a7a"/>
<rect x="507.5" y="202.5" width="11" height="0.6" fill="#7c7c7c"/>
<rect x="507.5" y="205" width="11" height="0.6" fill="#7c7c7c"/>
<rect x="507.5" y="209.5" width="11" height="0.6" fill="#7c7c7c"/>
<rect x="507.5" y="212" width="11" height="0.6" fill="#7c7c7c"/>
<rect x="507.5" y="214" width="11" height="0.6" fill="#7c7c7c"/>
<rect x="495" y="216" width="24" height="1.6" fill="#484848"/>
<path d="M495,217.4 L519,217.4 Q521.4,219.5 521.8,224.6 L491.5,224.6 Q491.9,219.5 495,217.4 Z" fill="url(#cyl2)"/>
<rect x="491.5" y="225" width="30.3" height="148" fill="url(#cyl2)"/>
<rect x="491.5" y="226.4" width="30.3" height="1" fill="#666"/>
<rect x="494.2" y="227.2" width="1.2" height="1.6" fill="#444"/>
<rect x="499.0" y="227.2" width="1.2" height="1.6" fill="#444"/>
<rect x="504.1" y="227.2" width="1.2" height="1.6" fill="#444"/>
<rect x="509.2" y="227.2" width="1.2" height="1.6" fill="#444"/>
<rect x="511.3" y="227.5" width="9.8" height="140" fill="#c4c4c4"/>
<rect x="510.8" y="227.5" width="0.9" height="145" fill="#666"/>
<g clip-path="url(#feedclip)"><rect x="510" y="250" width="14" height="115" fill="#707070"/><g stroke="#484848" stroke-width="0.45"><ellipse cx="516.1" cy="359.8" rx="1.6" ry="1.6" fill="#848484"/><ellipse cx="519.2" cy="353.2" rx="1.6" ry="1.8" fill="#acacac"/><ellipse cx="518.0" cy="257.4" rx="1.4" ry="2.0" fill="#989898"/><ellipse cx="516.6" cy="343.0" rx="1.2" ry="1.7" fill="#d0d0d0"/><ellipse cx="519.4" cy="343.3" rx="1.6" ry="1.4" fill="#d0d0d0"/><ellipse cx="516.2" cy="337.7" rx="1.4" ry="1.5" fill="#909090"/><ellipse cx="510.3" cy="275.7" rx="1.7" ry="1.5" fill="#acacac"/><ellipse cx="511.2" cy="292.7" rx="2.0" ry="1.6" fill="#909090"/><ellipse cx="515.3" cy="307.2" rx="1.9" ry="1.4" fill="#e0e0e0"/><ellipse cx="511.8" cy="350.2" rx="1.8" ry="1.3" fill="#b4b4b4"/><ellipse cx="522.0" cy="310.3" rx="1.7" ry="1.7" fill="#909090"/><ellipse cx="510.4" cy="259.6" rx="1.5" ry="1.7" fill="#909090"/><ellipse cx="521.8" cy="302.7" rx="1.5" ry="1.5" fill="#e0e0e0"/><ellipse cx="515.8" cy="287.3" rx="1.4" ry="1.7" fill="#d0d0d0"/><ellipse cx="513.5" cy="330.3" rx="2.0" ry="1.3" fill="#a8a8a8"/><ellipse cx="519.7" cy="297.5" rx="1.5" ry="1.6" fill="#acacac"/><ellipse cx="519.2" cy="291.2" rx="1.6" ry="1.9" fill="#acacac"/><ellipse cx="519.7" cy="266.2" rx="1.7" ry="1.8" fill="#848484"/><ellipse cx="521.5" cy="334.8" rx="1.8" ry="1.5" fill="#848484"/><ellipse cx="512.8" cy="342.0" rx="2.0" ry="1.6" fill="#b4b4b4"/><ellipse cx="516.6" cy="317.8" rx="1.5" ry="1.6" fill="#d0d0d0"/><ellipse cx="516.2" cy="285.9" rx="1.3" ry="1.9" fill="#909090"/><ellipse cx="514.2" cy="319.9" rx="1.5" ry="1.4" fill="#989898"/><ellipse cx="516.3" cy="295.7" rx="1.7" ry="1.8" fill="#acacac"/><ellipse cx="514.4" cy="265.6" rx="1.9" ry="1.6" fill="#e0e0e0"/><ellipse cx="510.4" cy="268.0" rx="1.8" ry="1.4" fill="#848484"/><ellipse cx="521.7" cy="320.9" rx="1.4" ry="1.9" fill="#989898"/><ellipse cx="518.4" cy="355.8" rx="1.3" ry="1.8" fill="#c0c0c0"/><ellipse cx="519.2" cy="318.4" rx="1.4" ry="1.6" fill="#909090"/><ellipse cx="516.0" cy="300.4" rx="1.5" ry="1.5" fill="#9c9c9c"/><ellipse cx="511.2" cy="337.2" rx="1.5" ry="1.8" fill="#848484"/><ellipse cx="512.9" cy="335.5" rx="1.6" ry="1.6" fill="#909090"/><ellipse cx="513.8" cy="349.3" rx="1.5" ry="2.0" fill="#acacac"/><ellipse cx="518.7" cy="350.2" rx="1.5" ry="1.9" fill="#acacac"/><ellipse cx="519.0" cy="281.8" rx="1.6" ry="1.5" fill="#9c9c9c"/><ellipse cx="519.5" cy="310.1" rx="1.9" ry="1.4" fill="#c0c0c0"/><ellipse cx="513.4" cy="318.7" rx="1.8" ry="1.8" fill="#c0c0c0"/><ellipse cx="517.1" cy="347.3" rx="1.4" ry="1.5" fill="#d0d0d0"/><ellipse cx="515.9" cy="261.1" rx="1.3" ry="1.4" fill="#9c9c9c"/><ellipse cx="513.4" cy="255.6" rx="1.3" ry="2.0" fill="#acacac"/><ellipse cx="514.5" cy="298.0" rx="1.9" ry="1.5" fill="#989898"/><ellipse cx="516.8" cy="263.7" rx="1.8" ry="1.8" fill="#848484"/><ellipse cx="511.0" cy="282.8" rx="1.6" ry="1.9" fill="#909090"/><ellipse cx="519.6" cy="278.1" rx="1.8" ry="1.4" fill="#909090"/><ellipse cx="521.8" cy="332.9" rx="1.8" ry="2.0" fill="#e0e0e0"/><ellipse cx="510.5" cy="257.7" rx="1.4" ry="1.9" fill="#989898"/><ellipse cx="515.4" cy="323.1" rx="1.4" ry="1.7" fill="#acacac"/><ellipse cx="510.3" cy="324.7" rx="1.6" ry="1.8" fill="#d0d0d0"/><ellipse cx="513.8" cy="332.3" rx="1.8" ry="1.8" fill="#909090"/><ellipse cx="514.2" cy="290.2" rx="1.8" ry="1.8" fill="#848484"/><ellipse cx="519.5" cy="273.5" rx="1.4" ry="1.6" fill="#909090"/><ellipse cx="521.0" cy="324.9" rx="1.3" ry="1.6" fill="#d0d0d0"/><ellipse cx="510.6" cy="315.2" rx="1.8" ry="1.5" fill="#acacac"/><ellipse cx="521.2" cy="280.3" rx="1.6" ry="1.8" fill="#b4b4b4"/><ellipse cx="518.7" cy="339.4" rx="1.7" ry="1.3" fill="#9c9c9c"/><ellipse cx="511.7" cy="342.9" rx="1.5" ry="1.4" fill="#a8a8a8"/><ellipse cx="520.6" cy="349.3" rx="1.9" ry="1.4" fill="#9c9c9c"/><ellipse cx="522.0" cy="345.5" rx="1.4" ry="1.4" fill="#a8a8a8"/><ellipse cx="510.9" cy="323.6" rx="1.5" ry="1.9" fill="#909090"/><ellipse cx="513.9" cy="271.2" rx="1.8" ry="1.5" fill="#a8a8a8"/><ellipse cx="521.8" cy="338.5" rx="1.4" ry="1.6" fill="#d0d0d0"/><ellipse cx="521.7" cy="297.4" rx="1.9" ry="1.3" fill="#848484"/><ellipse cx="513.0" cy="326.1" rx="1.6" ry="1.2" fill="#c0c0c0"/><ellipse cx="521.4" cy="295.4" rx="1.6" ry="1.4" fill="#acacac"/><ellipse cx="514.1" cy="357.8" rx="1.4" ry="1.5" fill="#e0e0e0"/><ellipse cx="515.8" cy="315.4" rx="1.7" ry="1.5" fill="#c0c0c0"/><ellipse cx="521.5" cy="288.7" rx="1.2" ry="1.7" fill="#d0d0d0"/><ellipse cx="516.3" cy="268.3" rx="1.5" ry="1.7" fill="#d0d0d0"/><ellipse cx="519.4" cy="347.7" rx="1.6" ry="1.2" fill="#b4b4b4"/><ellipse cx="521.5" cy="306.2" rx="1.5" ry="1.8" fill="#848484"/><ellipse cx="514.6" cy="280.6" rx="1.2" ry="2.0" fill="#b4b4b4"/><ellipse cx="518.5" cy="263.2" rx="2.0" ry="1.7" fill="#989898"/><ellipse cx="510.4" cy="348.6" rx="1.4" ry="1.5" fill="#848484"/><ellipse cx="510.5" cy="344.8" rx="1.3" ry="1.4" fill="#b4b4b4"/><ellipse cx="514.2" cy="262.6" rx="1.7" ry="1.7" fill="#e0e0e0"/><ellipse cx="518.5" cy="326.8" rx="1.5" ry="1.6" fill="#909090"/><ellipse cx="513.2" cy="311.8" rx="1.4" ry="1.5" fill="#848484"/><ellipse cx="521.1" cy="328.4" rx="1.4" ry="1.5" fill="#c0c0c0"/><ellipse cx="515.6" cy="312.7" rx="1.4" ry="1.6" fill="#b4b4b4"/><ellipse cx="518.2" cy="301.2" rx="1.2" ry="1.7" fill="#909090"/><ellipse cx="513.7" cy="259.5" rx="1.2" ry="1.7" fill="#b4b4b4"/><ellipse cx="521.7" cy="277.2" rx="1.7" ry="1.5" fill="#848484"/><ellipse cx="512.2" cy="353.7" rx="1.9" ry="1.3" fill="#a8a8a8"/><ellipse cx="521.1" cy="258.0" rx="1.8" ry="1.6" fill="#989898"/><ellipse cx="515.4" cy="344.8" rx="1.6" ry="1.6" fill="#c0c0c0"/><ellipse cx="516.7" cy="277.5" rx="1.6" ry="1.8" fill="#e0e0e0"/><ellipse cx="520.8" cy="306.8" rx="1.5" ry="1.6" fill="#c0c0c0"/><ellipse cx="516.8" cy="265.0" rx="1.6" ry="1.8" fill="#e0e0e0"/><ellipse cx="516.4" cy="305.2" rx="1.8" ry="1.5" fill="#9c9c9c"/><ellipse cx="521.0" cy="282.7" rx="1.7" ry="1.4" fill="#a8a8a8"/><ellipse cx="511.9" cy="334.4" rx="1.9" ry="1.6" fill="#9c9c9c"/><ellipse cx="510.7" cy="269.7" rx="1.4" ry="1.6" fill="#848484"/><ellipse cx="521.6" cy="300.0" rx="1.6" ry="1.7" fill="#c0c0c0"/><ellipse cx="511.9" cy="294.5" rx="1.6" ry="1.5" fill="#909090"/><ellipse cx="513.6" cy="302.7" rx="1.7" ry="1.9" fill="#848484"/><ellipse cx="522.1" cy="261.9" rx="1.6" ry="2.0" fill="#989898"/><ellipse cx="519.6" cy="321.2" rx="1.4" ry="1.6" fill="#c0c0c0"/><ellipse cx="514.2" cy="285.4" rx="1.8" ry="1.5" fill="#848484"/><ellipse cx="511.4" cy="360.3" rx="1.8" ry="1.7" fill="#acacac"/><ellipse cx="521.0" cy="340.2" rx="1.6" ry="1.6" fill="#d0d0d0"/><ellipse cx="514.3" cy="323.4" rx="1.3" ry="1.4" fill="#e0e0e0"/><ellipse cx="522.0" cy="276.0" rx="1.5" ry="1.7" fill="#909090"/><ellipse cx="514.2" cy="338.1" rx="1.9" ry="1.5" fill="#e0e0e0"/><ellipse cx="522.2" cy="268.2" rx="1.6" ry="1.5" fill="#a8a8a8"/><ellipse cx="514.2" cy="300.9" rx="1.4" ry="1.9" fill="#d0d0d0"/><ellipse cx="516.6" cy="256.1" rx="1.4" ry="1.4" fill="#b4b4b4"/><ellipse cx="516.6" cy="281.1" rx="1.5" ry="1.7" fill="#b4b4b4"/><ellipse cx="514.5" cy="354.4" rx="1.5" ry="1.7" fill="#848484"/><ellipse cx="510.7" cy="296.8" rx="1.2" ry="1.8" fill="#acacac"/><ellipse cx="511.1" cy="279.3" rx="1.3" ry="1.7" fill="#909090"/><ellipse cx="511.4" cy="277.7" rx="1.5" ry="1.6" fill="#9c9c9c"/><ellipse cx="512.8" cy="345.4" rx="1.3" ry="2.0" fill="#848484"/><ellipse cx="522.2" cy="317.5" rx="1.4" ry="1.5" fill="#9c9c9c"/><ellipse cx="516.8" cy="320.5" rx="1.9" ry="1.5" fill="#d0d0d0"/><ellipse cx="513.3" cy="310.7" rx="1.6" ry="1.2" fill="#9c9c9c"/><ellipse cx="515.9" cy="275.5" rx="1.2" ry="2.0" fill="#909090"/><ellipse cx="518.4" cy="295.9" rx="1.2" ry="1.7" fill="#9c9c9c"/><ellipse cx="511.1" cy="305.2" rx="1.6" ry="2.0" fill="#909090"/><ellipse cx="516.1" cy="296.8" rx="1.8" ry="1.5" fill="#e0e0e0"/><ellipse cx="513.3" cy="294.8" rx="1.4" ry="1.3" fill="#c0c0c0"/><ellipse cx="510.5" cy="308.3" rx="1.8" ry="1.6" fill="#909090"/><ellipse cx="520.6" cy="355.3" rx="1.5" ry="1.9" fill="#909090"/><ellipse cx="515.9" cy="310.5" rx="1.5" ry="1.7" fill="#909090"/><ellipse cx="519.0" cy="292.5" rx="1.4" ry="1.2" fill="#909090"/><ellipse cx="511.6" cy="255.3" rx="1.4" ry="1.4" fill="#848484"/><ellipse cx="517.8" cy="325.3" rx="1.9" ry="1.6" fill="#989898"/><ellipse cx="518.5" cy="361.0" rx="1.6" ry="1.5" fill="#989898"/><ellipse cx="518.7" cy="345.4" rx="1.4" ry="1.4" fill="#848484"/><ellipse cx="516.4" cy="273.2" rx="1.4" ry="1.8" fill="#b4b4b4"/><ellipse cx="518.5" cy="335.8" rx="1.5" ry="2.0" fill="#e0e0e0"/><ellipse cx="512.2" cy="262.5" rx="1.5" ry="1.7" fill="#b4b4b4"/><ellipse cx="519.7" cy="329.9" rx="1.8" ry="1.5" fill="#b4b4b4"/><ellipse cx="516.9" cy="335.1" rx="1.6" ry="1.6" fill="#b4b4b4"/><ellipse cx="515.5" cy="258.4" rx="1.7" ry="1.4" fill="#c0c0c0"/><ellipse cx="521.0" cy="255.0" rx="1.9" ry="1.8" fill="#9c9c9c"/><ellipse cx="513.8" cy="347.2" rx="1.7" ry="1.6" fill="#989898"/><ellipse cx="514.6" cy="256.8" rx="1.5" ry="1.9" fill="#b4b4b4"/><ellipse cx="510.5" cy="339.7" rx="1.7" ry="1.4" fill="#d0d0d0"/><ellipse cx="520.3" cy="260.3" rx="1.4" ry="1.9" fill="#989898"/><ellipse cx="511.5" cy="273.6" rx="1.7" ry="1.8" fill="#acacac"/><ellipse cx="513.2" cy="286.9" rx="1.7" ry="1.3" fill="#d0d0d0"/><ellipse cx="516.0" cy="282.8" rx="1.7" ry="1.7" fill="#e0e0e0"/><ellipse cx="510.6" cy="358.0" rx="2.0" ry="1.3" fill="#848484"/><ellipse cx="513.8" cy="360.9" rx="1.8" ry="1.4" fill="#d0d0d0"/><ellipse cx="521.1" cy="272.0" rx="1.7" ry="1.6" fill="#acacac"/><ellipse cx="511.9" cy="290.8" rx="1.8" ry="1.8" fill="#c0c0c0"/><ellipse cx="514.6" cy="283.0" rx="1.4" ry="1.6" fill="#e0e0e0"/><ellipse cx="510.9" cy="328.4" rx="1.7" ry="1.5" fill="#909090"/><ellipse cx="518.4" cy="286.8" rx="1.7" ry="1.6" fill="#e0e0e0"/><ellipse cx="512.0" cy="333.7" rx="1.7" ry="1.8" fill="#d0d0d0"/><ellipse cx="520.7" cy="342.3" rx="1.5" ry="1.6" fill="#a8a8a8"/><ellipse cx="510.7" cy="354.8" rx="1.7" ry="1.7" fill="#c0c0c0"/><ellipse cx="521.1" cy="348.0" rx="1.7" ry="1.7" fill="#acacac"/><ellipse cx="520.4" cy="331.2" rx="1.5" ry="1.5" fill="#acacac"/><ellipse cx="513.0" cy="292.9" rx="1.8" ry="1.5" fill="#a8a8a8"/><ellipse cx="510.5" cy="265.1" rx="1.9" ry="1.4" fill="#b4b4b4"/><ellipse cx="518.4" cy="305.7" rx="1.5" ry="1.5" fill="#848484"/><ellipse cx="519.3" cy="279.4" rx="1.5" ry="1.9" fill="#b4b4b4"/><ellipse cx="522.0" cy="315.0" rx="1.9" ry="1.3" fill="#d0d0d0"/><ellipse cx="517.9" cy="254.3" rx="1.4" ry="1.4" fill="#d0d0d0"/><ellipse cx="516.2" cy="325.8" rx="1.4" ry="1.4" fill="#acacac"/><ellipse cx="521.0" cy="352.9" rx="1.5" ry="1.5" fill="#b4b4b4"/><ellipse cx="518.5" cy="358.1" rx="1.6" ry="1.5" fill="#989898"/><ellipse cx="517.1" cy="327.5" rx="1.7" ry="1.8" fill="#a8a8a8"/><ellipse cx="511.3" cy="309.6" rx="1.5" ry="1.3" fill="#909090"/><ellipse cx="519.7" cy="307.7" rx="1.8" ry="1.7" fill="#a8a8a8"/><ellipse cx="518.0" cy="274.6" rx="1.7" ry="1.9" fill="#909090"/><ellipse cx="512.9" cy="278.6" rx="1.8" ry="2.0" fill="#a8a8a8"/><ellipse cx="512.8" cy="353.7" rx="1.3" ry="1.7" fill="#b4b4b4"/><ellipse cx="518.8" cy="322.5" rx="1.7" ry="1.5" fill="#acacac"/><ellipse cx="510.8" cy="320.8" rx="1.8" ry="1.5" fill="#d0d0d0"/><ellipse cx="515.4" cy="303.7" rx="1.3" ry="1.7" fill="#c0c0c0"/><ellipse cx="517.0" cy="329.7" rx="1.6" ry="1.4" fill="#c0c0c0"/><ellipse cx="516.0" cy="339.7" rx="1.3" ry="1.6" fill="#b4b4b4"/><ellipse cx="512.2" cy="317.0" rx="1.8" ry="1.9" fill="#848484"/><ellipse cx="518.6" cy="313.4" rx="1.5" ry="1.5" fill="#989898"/><ellipse cx="510.5" cy="330.6" rx="1.7" ry="1.6" fill="#acacac"/><ellipse cx="511.2" cy="300.2" rx="1.7" ry="1.2" fill="#9c9c9c"/><ellipse cx="519.2" cy="285.8" rx="1.5" ry="1.7" fill="#d0d0d0"/><ellipse cx="512.2" cy="303.6" rx="2.0" ry="1.2" fill="#c0c0c0"/><ellipse cx="515.4" cy="270.3" rx="1.8" ry="1.4" fill="#c0c0c0"/><ellipse cx="521.8" cy="292.5" rx="1.5" ry="1.9" fill="#d0d0d0"/><ellipse cx="513.6" cy="305.0" rx="1.7" ry="1.3" fill="#9c9c9c"/><ellipse cx="510.9" cy="286.2" rx="1.6" ry="1.4" fill="#e0e0e0"/><ellipse cx="519.7" cy="315.8" rx="1.9" ry="1.2" fill="#989898"/><ellipse cx="513.6" cy="327.3" rx="1.5" ry="1.9" fill="#909090"/><ellipse cx="514.3" cy="308.5" rx="1.6" ry="1.5" fill="#b4b4b4"/><ellipse cx="517.2" cy="354.5" rx="2.0" ry="1.7" fill="#9c9c9c"/><ellipse cx="514.1" cy="315.8" rx="2.0" ry="1.3" fill="#b4b4b4"/><ellipse cx="515.7" cy="357.1" rx="1.5" ry="1.2" fill="#989898"/><ellipse cx="520.9" cy="357.3" rx="1.4" ry="1.5" fill="#b4b4b4"/><ellipse cx="515.6" cy="293.7" rx="1.5" ry="1.7" fill="#d0d0d0"/><ellipse cx="518.0" cy="260.1" rx="1.9" ry="1.5" fill="#909090"/><ellipse cx="519.1" cy="338.1" rx="1.6" ry="1.4" fill="#e0e0e0"/><ellipse cx="522.0" cy="265.4" rx="1.5" ry="1.7" fill="#c0c0c0"/><ellipse cx="514.7" cy="267.9" rx="1.8" ry="1.6" fill="#acacac"/><ellipse cx="510.9" cy="288.4" rx="1.6" ry="1.4" fill="#848484"/><ellipse cx="518.6" cy="302.6" rx="2.0" ry="1.4" fill="#989898"/><ellipse cx="515.8" cy="350.4" rx="1.8" ry="1.7" fill="#c0c0c0"/><ellipse cx="518.6" cy="268.0" rx="1.7" ry="1.8" fill="#acacac"/><ellipse cx="513.5" cy="341.0" rx="2.0" ry="1.6" fill="#989898"/><ellipse cx="521.7" cy="270.8" rx="1.6" ry="1.7" fill="#909090"/><ellipse cx="521.5" cy="313.4" rx="1.8" ry="1.7" fill="#989898"/><ellipse cx="514.4" cy="272.4" rx="2.0" ry="1.4" fill="#acacac"/><ellipse cx="518.0" cy="270.5" rx="1.6" ry="1.6" fill="#a8a8a8"/><ellipse cx="516.0" cy="290.6" rx="1.7" ry="1.5" fill="#9c9c9c"/><ellipse cx="521.0" cy="322.6" rx="1.7" ry="1.3" fill="#a8a8a8"/><ellipse cx="512.0" cy="311.8" rx="1.5" ry="2.0" fill="#a8a8a8"/><ellipse cx="516.0" cy="353.6" rx="1.8" ry="1.6" fill="#a8a8a8"/><ellipse cx="519.6" cy="331.8" rx="1.9" ry="1.4" fill="#d0d0d0"/><ellipse cx="521.7" cy="360.0" rx="1.8" ry="1.8" fill="#acacac"/><ellipse cx="522.1" cy="289.6" rx="1.6" ry="1.8" fill="#e0e0e0"/><ellipse cx="513.0" cy="276.1" rx="1.4" ry="1.5" fill="#848484"/><ellipse cx="521.2" cy="286.2" rx="1.6" ry="1.3" fill="#c0c0c0"/><ellipse cx="516.6" cy="331.8" rx="1.9" ry="1.2" fill="#909090"/></g></g>
<path d="M511.7,361 Q513,356 521,351 L521,371.5 L511.7,371.5 Z" fill="#d2d2d2"/>
<path d="M512.3,371 Q512.6,360 521,353.5" stroke="#f2f2f2" stroke-width="1.5" fill="none"/>
<path d="M514.6,371 Q515.5,363 521,358.5" stroke="#aaa" stroke-width="0.6" fill="none"/>
<path d="M493.4,284.6 Q497.5,283.6 501,280.2 Q506,276 510.8,275.6 L510.8,372 L493.4,372 Z" fill="#6c6c6c"/>
<rect x="499.6" y="279" width="3.2" height="60" fill="#c8c8c8"/>
<rect x="500.9" y="279" width="0.7" height="60" fill="#777"/>
<rect x="508.9" y="274" width="1.9" height="98" fill="#c4c4c4"/>
<rect x="493.4" y="283" width="1.1" height="89" fill="#9a9a9a"/>
<rect x="494.6" y="282" width="4.8" height="0.8" fill="#9a9a9a"/>
<rect x="494.6" y="284" width="4.8" height="0.8" fill="#9a9a9a"/>
<rect x="494.6" y="286" width="4.8" height="0.8" fill="#9a9a9a"/>
<rect x="494.6" y="288" width="4.8" height="0.8" fill="#9a9a9a"/>
<rect x="494.6" y="290" width="4.8" height="0.8" fill="#9a9a9a"/>
<rect x="494.6" y="292" width="4.8" height="0.8" fill="#9a9a9a"/>
<rect x="494.6" y="294" width="4.8" height="0.8" fill="#9a9a9a"/>
<rect x="494.6" y="296" width="4.8" height="0.8" fill="#9a9a9a"/>
<rect x="494.6" y="298" width="4.8" height="0.8" fill="#9a9a9a"/>
<rect x="494.6" y="300" width="4.8" height="0.8" fill="#9a9a9a"/>
<rect x="494.6" y="302" width="4.8" height="0.8" fill="#9a9a9a"/>
<rect x="494.6" y="304" width="4.8" height="0.8" fill="#9a9a9a"/>
<rect x="494.6" y="306" width="4.8" height="0.8" fill="#9a9a9a"/>
<rect x="494.6" y="308" width="4.8" height="0.8" fill="#9a9a9a"/>
<rect x="494.6" y="310" width="4.8" height="0.8" fill="#9a9a9a"/>
<rect x="494.6" y="312" width="4.8" height="0.8" fill="#9a9a9a"/>
<rect x="494.6" y="314" width="4.8" height="0.8" fill="#9a9a9a"/>
<rect x="494.6" y="316" width="4.8" height="0.8" fill="#9a9a9a"/>
<rect x="494.6" y="318" width="4.8" height="0.8" fill="#9a9a9a"/>
<rect x="503.2" y="276" width="5.3" height="0.8" fill="#989898"/>
<rect x="503.2" y="278" width="5.3" height="0.8" fill="#989898"/>
<rect x="503.2" y="280" width="5.3" height="0.8" fill="#989898"/>
<rect x="503.2" y="282" width="5.3" height="0.8" fill="#989898"/>
<rect x="503.2" y="284" width="5.3" height="0.8" fill="#989898"/>
<rect x="503.2" y="286" width="5.3" height="0.8" fill="#989898"/>
<rect x="503.2" y="288" width="5.3" height="0.8" fill="#989898"/>
<rect x="503.2" y="290" width="5.3" height="0.8" fill="#989898"/>
<rect x="503.2" y="292" width="5.3" height="0.8" fill="#989898"/>
<rect x="503.2" y="294" width="5.3" height="0.8" fill="#989898"/>
<rect x="503.2" y="296" width="5.3" height="0.8" fill="#989898"/>
<rect x="503.2" y="298" width="5.3" height="0.8" fill="#989898"/>
<rect x="503.2" y="300" width="5.3" height="0.8" fill="#989898"/>
<rect x="503.2" y="302" width="5.3" height="0.8" fill="#989898"/>
<rect x="503.2" y="304" width="5.3" height="0.8" fill="#989898"/>
<rect x="503.2" y="306" width="5.3" height="0.8" fill="#989898"/>
<rect x="503.2" y="308" width="5.3" height="0.8" fill="#989898"/>
<rect x="503.2" y="310" width="5.3" height="0.8" fill="#989898"/>
<rect x="503.2" y="312" width="5.3" height="0.8" fill="#989898"/>
<rect x="503.2" y="314" width="5.3" height="0.8" fill="#989898"/>
<rect x="503.2" y="316" width="5.3" height="0.8" fill="#989898"/>
<rect x="503.2" y="318" width="5.3" height="0.8" fill="#989898"/>
<rect x="494.8" y="320.4" width="4.3" height="2.4" fill="#ececec"/>
<rect x="503.5" y="320.4" width="4.6" height="2.4" fill="#ececec"/>
<rect x="494.8" y="335.4" width="4.3" height="2.4" fill="#ececec"/>
<rect x="503.5" y="335.4" width="4.6" height="2.4" fill="#ececec"/>
<rect x="494.6" y="322.8" width="4.8" height="12.6" fill="#7c7c7c"/>
<rect x="503.2" y="322.8" width="5.3" height="12.6" fill="#7c7c7c"/>
<rect x="498.8" y="327.2" width="5" height="3.2" fill="#d4d4d4"/>
<rect x="499.8" y="328" width="3" height="1.6" fill="#555"/>
<rect x="494.5" y="338" width="14.2" height="34" fill="#5c5c5c"/>
<rect x="494.5" y="338" width="3" height="34" fill="#777"/>
<rect x="501" y="338" width="3.4" height="34" fill="#a4a4a4"/>
<rect x="500.6" y="338" width="0.9" height="34" fill="#3a3a3a"/>
<path d="M493,270 L510.8,270 L510.8,275.6 Q506,276 501,280.2 Q497.5,283.6 493.4,284.6 Z" fill="url(#shellcut)"/>
<path d="M493.4,284.6 Q497.5,283.6 501,280.2 Q506,276 510.8,275.6" stroke="#e4e4e4" stroke-width="1.5" fill="none"/>
<path d="M493.4,285.8 Q497.8,284.8 501.4,281.3 Q506,277.3 510.8,276.9" stroke="#4a4a4a" stroke-width="0.7" fill="none"/>
<rect x="491.2" y="371.3" width="30.4" height="2" fill="#4c4c4c"/>
<rect x="491.2" y="373.2" width="30.4" height="2.6" fill="#8e8e8e"/>
<path d="M492.8,375.8 L520.6,375.8 L515.2,385.8 L498.5,385.8 Z" fill="url(#conegr)"/>
<path d="M499,375.8 L501.7,385.8 M506.8,375.8 L506.8,385.8 M514.5,375.8 L512,385.8" stroke="#858585" stroke-width="0.7" fill="none"/>
<path d="M492.8,375.8 L498.5,385.8 M520.6,375.8 L515.2,385.8" stroke="#707070" stroke-width="0.7" fill="none"/>
<path d="M500.0,386.0 L499.5,387.0 L499.2,388.0 L499.0,389.0 L498.8,390.0 L498.5,391.0 L498.2,392.0 L498.0,393.0 L497.8,394.0 L497.8,395.0 L497.8,396.0 L497.8,397.0 L498.0,398.0 L498.2,399.0 L498.5,400.0 L499.0,401.0 L499.2,402.0 L500.0,403.0 L500.5,404.0 L501.5,405.0 L502.5,406.0 L504.0,407.0 L509.8,407.0 L511.0,406.0 L512.2,405.0 L513.0,404.0 L513.8,403.0 L514.2,402.0 L514.8,401.0 L515.0,400.0 L515.5,399.0 L515.8,398.0 L515.8,397.0 L516.0,396.0 L516.0,395.0 L516.0,394.0 L515.8,393.0 L515.5,392.0 L515.2,391.0 L515.0,390.0 L514.8,389.0 L514.5,388.0 L514.2,387.0 L513.8,386.0 Z" fill="#5c5c5c"/><g stroke="#484848" stroke-width="0.45"><ellipse cx="515.2" cy="395.8" rx="1.8" ry="1.5" fill="#848484"/><ellipse cx="509.9" cy="397.9" rx="1.5" ry="1.5" fill="#787878"/><ellipse cx="513.2" cy="403.2" rx="1.7" ry="1.5" fill="#a0a0a0"/><ellipse cx="498.3" cy="391.6" rx="1.7" ry="1.6" fill="#b4b4b4"/><ellipse cx="507.6" cy="389.5" rx="1.2" ry="1.5" fill="#a8a8a8"/><ellipse cx="499.5" cy="402.3" rx="1.7" ry="1.7" fill="#b4b4b4"/><ellipse cx="499.6" cy="386.9" rx="1.8" ry="1.9" fill="#8c8c8c"/><ellipse cx="506.1" cy="400.1" rx="2.0" ry="1.6" fill="#848484"/><ellipse cx="510.4" cy="397.8" rx="1.4" ry="1.9" fill="#c4c4c4"/><ellipse cx="508.4" cy="395.4" rx="1.5" ry="1.7" fill="#a8a8a8"/><ellipse cx="504.8" cy="403.0" rx="1.6" ry="1.7" fill="#a0a0a0"/><ellipse cx="512.0" cy="390.9" rx="1.8" ry="1.7" fill="#8c8c8c"/><ellipse cx="500.6" cy="390.1" rx="1.8" ry="1.5" fill="#a8a8a8"/><ellipse cx="509.3" cy="388.7" rx="1.4" ry="1.7" fill="#848484"/><ellipse cx="500.1" cy="391.3" rx="2.0" ry="1.6" fill="#c4c4c4"/><ellipse cx="503.0" cy="392.4" rx="1.7" ry="1.9" fill="#787878"/><ellipse cx="509.0" cy="391.3" rx="1.4" ry="1.9" fill="#787878"/><ellipse cx="509.4" cy="393.8" rx="1.4" ry="2.0" fill="#909090"/><ellipse cx="513.5" cy="399.0" rx="1.4" ry="1.5" fill="#a8a8a8"/><ellipse cx="501.4" cy="400.4" rx="1.4" ry="1.4" fill="#c4c4c4"/><ellipse cx="501.9" cy="399.2" rx="1.8" ry="1.4" fill="#a0a0a0"/><ellipse cx="505.3" cy="394.2" rx="1.5" ry="2.0" fill="#848484"/><ellipse cx="506.7" cy="394.7" rx="1.8" ry="1.4" fill="#909090"/><ellipse cx="499.3" cy="395.7" rx="1.4" ry="1.7" fill="#9c9c9c"/><ellipse cx="508.8" cy="405.9" rx="1.8" ry="1.8" fill="#c4c4c4"/><ellipse cx="508.8" cy="387.7" rx="1.5" ry="1.8" fill="#9c9c9c"/><ellipse cx="503.8" cy="404.7" rx="1.4" ry="1.7" fill="#9c9c9c"/><ellipse cx="506.2" cy="402.3" rx="1.5" ry="1.4" fill="#c4c4c4"/><ellipse cx="502.3" cy="387.2" rx="1.6" ry="1.5" fill="#b4b4b4"/><ellipse cx="514.9" cy="398.6" rx="1.5" ry="1.7" fill="#909090"/><ellipse cx="510.4" cy="403.3" rx="1.7" ry="1.3" fill="#8c8c8c"/><ellipse cx="499.9" cy="398.3" rx="1.4" ry="1.6" fill="#a8a8a8"/><ellipse cx="499.0" cy="393.4" rx="1.7" ry="1.8" fill="#c4c4c4"/><ellipse cx="511.9" cy="404.6" rx="1.8" ry="1.5" fill="#b4b4b4"/><ellipse cx="502.0" cy="403.3" rx="1.9" ry="1.3" fill="#8c8c8c"/><ellipse cx="501.8" cy="396.4" rx="1.6" ry="1.6" fill="#b4b4b4"/><ellipse cx="501.5" cy="390.1" rx="1.8" ry="1.8" fill="#c4c4c4"/><ellipse cx="504.8" cy="399.0" rx="1.5" ry="1.6" fill="#c4c4c4"/><ellipse cx="508.1" cy="403.1" rx="1.6" ry="1.3" fill="#a0a0a0"/><ellipse cx="504.4" cy="387.3" rx="1.7" ry="1.5" fill="#c4c4c4"/><ellipse cx="503.0" cy="405.2" rx="1.8" ry="1.9" fill="#a0a0a0"/><ellipse cx="513.9" cy="396.3" rx="1.5" ry="1.6" fill="#9c9c9c"/><ellipse cx="513.7" cy="401.9" rx="1.4" ry="1.4" fill="#c4c4c4"/><ellipse cx="510.7" cy="386.2" rx="1.5" ry="1.7" fill="#a0a0a0"/><ellipse cx="508.5" cy="401.8" rx="1.4" ry="1.5" fill="#a8a8a8"/><ellipse cx="510.8" cy="394.8" rx="1.4" ry="1.6" fill="#a0a0a0"/><ellipse cx="506.7" cy="396.4" rx="1.7" ry="1.5" fill="#848484"/><ellipse cx="506.5" cy="405.7" rx="1.4" ry="1.4" fill="#9c9c9c"/><ellipse cx="513.2" cy="389.7" rx="1.3" ry="1.4" fill="#a0a0a0"/><ellipse cx="506.4" cy="387.0" rx="1.3" ry="1.6" fill="#a8a8a8"/><ellipse cx="504.0" cy="396.7" rx="1.4" ry="2.0" fill="#a0a0a0"/><ellipse cx="513.5" cy="392.6" rx="1.4" ry="1.8" fill="#a0a0a0"/><ellipse cx="504.6" cy="392.7" rx="1.7" ry="2.0" fill="#909090"/><ellipse cx="502.9" cy="395.0" rx="1.2" ry="1.8" fill="#909090"/><ellipse cx="506.4" cy="398.0" rx="1.7" ry="1.8" fill="#848484"/><ellipse cx="513.9" cy="387.0" rx="2.0" ry="1.4" fill="#787878"/><ellipse cx="504.7" cy="400.7" rx="1.3" ry="2.0" fill="#8c8c8c"/><ellipse cx="505.0" cy="389.1" rx="1.8" ry="1.8" fill="#c4c4c4"/><ellipse cx="499.2" cy="401.7" rx="1.5" ry="1.4" fill="#a0a0a0"/><ellipse cx="510.7" cy="401.2" rx="1.7" ry="1.6" fill="#a8a8a8"/><ellipse cx="511.4" cy="396.1" rx="1.4" ry="1.4" fill="#8c8c8c"/><ellipse cx="513.6" cy="394.2" rx="1.6" ry="1.6" fill="#848484"/><ellipse cx="510.8" cy="389.7" rx="1.7" ry="2.0" fill="#787878"/><ellipse cx="506.7" cy="391.6" rx="1.6" ry="1.7" fill="#909090"/></g>
<path d="M487.3,226 L487.1,368 Q487.3,374 491.5,380 L497.5,388.5 M525.6,226 L525.8,368 Q525.6,374 521.5,380 L516,388.5" stroke="#fff" stroke-opacity="0.75" stroke-width="1.4" fill="none"/>
<rect x="491.2" y="225" width="0.9" height="148" fill="#555"/>
<rect x="521.2" y="225" width="0.9" height="148" fill="#555"/>
<text x="558" y="96.4" font-size="5.6" fill="#808080" text-anchor="end" textLength="28.2" lengthAdjust="spacingAndGlyphs">Cámara de</text>
<text x="558" y="104.8" font-size="5.6" fill="#808080" text-anchor="end" textLength="22" lengthAdjust="spacingAndGlyphs">descarga</text>
<rect x="520" y="98.05000000000001" width="38" height="0.7" fill="#8a8a8a"/>
<text x="558" y="158" font-size="5.6" fill="#808080" text-anchor="end" textLength="12.7" lengthAdjust="spacingAndGlyphs">Tubo</text>
<text x="558" y="167" font-size="5.6" fill="#808080" text-anchor="end" textLength="27" lengthAdjust="spacingAndGlyphs">alargador-</text>
<text x="558" y="174.6" font-size="5.6" fill="#808080" text-anchor="end" textLength="31.5" lengthAdjust="spacingAndGlyphs">alimentador</text>
<text x="558" y="182.1" font-size="5.6" fill="#808080" text-anchor="end" textLength="34.2" lengthAdjust="spacingAndGlyphs">de materiales</text>
<rect x="512" y="160.85" width="46" height="0.7" fill="#8a8a8a"/>
<text x="558" y="213.3" font-size="5.6" fill="#808080" text-anchor="end" textLength="26.3" lengthAdjust="spacingAndGlyphs">Junta anti-</text>
<text x="558" y="222.3" font-size="5.6" fill="#808080" text-anchor="end" textLength="24.6" lengthAdjust="spacingAndGlyphs">vibratoria</text>
<rect x="519.5" y="215.95000000000002" width="38.5" height="0.7" fill="#8a8a8a"/>
<text x="558" y="287.4" font-size="5.6" fill="#808080" text-anchor="end" textLength="15.5" lengthAdjust="spacingAndGlyphs">Motor</text>
<text x="558" y="296.4" font-size="5.6" fill="#808080" text-anchor="end" textLength="23" lengthAdjust="spacingAndGlyphs">eléctrico</text>
<rect x="521.5" y="289.45" width="36.5" height="0.7" fill="#8a8a8a"/>
<text x="558" y="314" font-size="5.6" fill="#808080" text-anchor="end" textLength="12.7" lengthAdjust="spacingAndGlyphs">Tubo</text>
<text x="558" y="322.3" font-size="5.6" fill="#808080" text-anchor="end" textLength="24.5" lengthAdjust="spacingAndGlyphs">alimenta-</text>
<text x="558" y="329.8" font-size="5.6" fill="#808080" text-anchor="end" textLength="18.5" lengthAdjust="spacingAndGlyphs">dor del</text>
<text x="558" y="337.3" font-size="5.6" fill="#808080" text-anchor="end" textLength="21" lengthAdjust="spacingAndGlyphs">material</text>
<rect x="521.5" y="315.65" width="36.5" height="0.7" fill="#8a8a8a"/>
<text x="558" y="351" font-size="5.6" fill="#808080" text-anchor="end" textLength="27.5" lengthAdjust="spacingAndGlyphs">Excéntrica</text>
<rect x="507" y="353.15" width="51" height="0.7" fill="#8a8a8a"/>
<text x="558" y="390.2" font-size="5.6" fill="#808080" text-anchor="end" textLength="19.5" lengthAdjust="spacingAndGlyphs">Orificio</text>
<text x="558" y="399" font-size="5.6" fill="#808080" text-anchor="end" textLength="22" lengthAdjust="spacingAndGlyphs">de salida</text>
<rect x="515" y="391.84999999999997" width="43" height="0.7" fill="#8a8a8a"/>
</g>
</svg></body></html>
